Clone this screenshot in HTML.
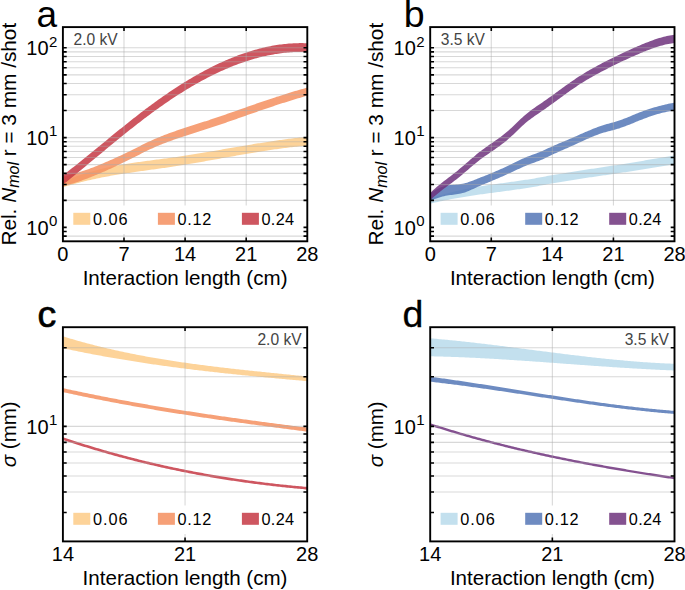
<!DOCTYPE html>
<html><head><meta charset="utf-8"><style>
html,body{margin:0;padding:0;background:#fff;width:685px;height:590px;overflow:hidden}
svg{display:block}
text{font-family:"Liberation Sans",sans-serif}
</style></head><body>
<svg width="685" height="590" viewBox="0 0 685 590">
<rect width="685" height="590" fill="#fff"/>
<clipPath id="c2"><rect x="62.90" y="27.10" width="244.40" height="214.20"/></clipPath>
<g clip-path="url(#c2)">
<path d="M62.90,181.86 L64.44,181.20 L65.97,180.55 L67.51,179.91 L69.05,179.29 L70.59,178.68 L72.12,178.08 L73.66,177.50 L75.20,176.93 L76.73,176.37 L78.27,175.82 L79.81,175.29 L81.35,174.76 L82.88,174.25 L84.42,173.75 L85.96,173.26 L87.49,172.79 L89.03,172.32 L90.57,171.86 L92.11,171.42 L93.64,170.98 L95.18,170.56 L96.72,170.15 L98.25,169.74 L99.79,169.35 L101.33,168.97 L102.86,168.59 L104.40,168.23 L105.94,167.87 L107.48,167.53 L109.01,167.19 L110.55,166.86 L112.09,166.54 L113.62,166.23 L115.16,165.93 L116.70,165.63 L118.24,165.34 L119.77,165.06 L121.31,164.78 L122.85,164.51 L124.38,164.25 L125.92,163.99 L127.46,163.74 L129.00,163.49 L130.53,163.25 L132.07,163.01 L133.61,162.78 L135.14,162.55 L136.68,162.32 L138.22,162.10 L139.76,161.88 L141.29,161.67 L142.83,161.46 L144.37,161.25 L145.90,161.04 L147.44,160.83 L148.98,160.63 L150.52,160.43 L152.05,160.22 L153.59,160.02 L155.13,159.82 L156.66,159.62 L158.20,159.42 L159.74,159.22 L161.27,159.02 L162.81,158.81 L164.35,158.61 L165.89,158.41 L167.42,158.20 L168.96,157.99 L170.50,157.78 L172.03,157.56 L173.57,157.35 L175.11,157.13 L176.65,156.90 L178.18,156.68 L179.72,156.45 L181.26,156.22 L182.79,155.99 L184.33,155.75 L185.87,155.52 L187.41,155.28 L188.94,155.04 L190.48,154.79 L192.02,154.55 L193.55,154.30 L195.09,154.05 L196.63,153.80 L198.17,153.55 L199.70,153.29 L201.24,153.04 L202.78,152.78 L204.31,152.53 L205.85,152.27 L207.39,152.01 L208.93,151.75 L210.46,151.49 L212.00,151.22 L213.54,150.96 L215.07,150.70 L216.61,150.43 L218.15,150.17 L219.68,149.90 L221.22,149.63 L222.76,149.37 L224.30,149.10 L225.83,148.84 L227.37,148.57 L228.91,148.30 L230.44,148.04 L231.98,147.77 L233.52,147.51 L235.06,147.24 L236.59,146.98 L238.13,146.71 L239.67,146.45 L241.20,146.19 L242.74,145.93 L244.28,145.67 L245.82,145.41 L247.35,145.15 L248.89,144.89 L250.43,144.63 L251.96,144.38 L253.50,144.12 L255.04,143.87 L256.58,143.62 L258.11,143.37 L259.65,143.13 L261.19,142.88 L262.72,142.64 L264.26,142.40 L265.80,142.16 L267.34,141.92 L268.87,141.68 L270.41,141.45 L271.95,141.22 L273.48,140.99 L275.02,140.77 L276.56,140.54 L278.09,140.32 L279.63,140.11 L281.17,139.89 L282.71,139.68 L284.24,139.47 L285.78,139.27 L287.32,139.07 L288.85,138.87 L290.39,138.67 L291.93,138.48 L293.47,138.29 L295.00,138.11 L296.54,137.93 L298.08,137.75 L299.61,137.58 L301.15,137.41 L302.69,137.24 L304.23,137.08 L305.76,136.92 L307.30,136.77 L307.30,145.62 L305.76,145.75 L304.23,145.89 L302.69,146.03 L301.15,146.18 L299.61,146.34 L298.08,146.49 L296.54,146.66 L295.00,146.82 L293.47,147.00 L291.93,147.17 L290.39,147.35 L288.85,147.54 L287.32,147.72 L285.78,147.92 L284.24,148.11 L282.71,148.31 L281.17,148.52 L279.63,148.72 L278.09,148.93 L276.56,149.15 L275.02,149.37 L273.48,149.59 L271.95,149.81 L270.41,150.04 L268.87,150.27 L267.34,150.50 L265.80,150.74 L264.26,150.97 L262.72,151.21 L261.19,151.46 L259.65,151.70 L258.11,151.95 L256.58,152.20 L255.04,152.45 L253.50,152.71 L251.96,152.96 L250.43,153.22 L248.89,153.48 L247.35,153.74 L245.82,154.01 L244.28,154.27 L242.74,154.54 L241.20,154.81 L239.67,155.07 L238.13,155.34 L236.59,155.62 L235.06,155.89 L233.52,156.16 L231.98,156.43 L230.44,156.71 L228.91,156.98 L227.37,157.26 L225.83,157.54 L224.30,157.81 L222.76,158.09 L221.22,158.36 L219.68,158.64 L218.15,158.92 L216.61,159.19 L215.07,159.47 L213.54,159.75 L212.00,160.02 L210.46,160.30 L208.93,160.57 L207.39,160.85 L205.85,161.12 L204.31,161.39 L202.78,161.66 L201.24,161.93 L199.70,162.20 L198.17,162.47 L196.63,162.74 L195.09,163.00 L193.55,163.27 L192.02,163.53 L190.48,163.79 L188.94,164.05 L187.41,164.31 L185.87,164.56 L184.33,164.82 L182.79,165.07 L181.26,165.32 L179.72,165.56 L178.18,165.81 L176.65,166.05 L175.11,166.29 L173.57,166.53 L172.03,166.76 L170.50,166.99 L168.96,167.22 L167.42,167.45 L165.89,167.67 L164.35,167.89 L162.81,168.11 L161.27,168.33 L159.74,168.55 L158.20,168.76 L156.66,168.98 L155.13,169.19 L153.59,169.41 L152.05,169.62 L150.52,169.83 L148.98,170.04 L147.44,170.25 L145.90,170.47 L144.37,170.68 L142.83,170.89 L141.29,171.11 L139.76,171.32 L138.22,171.54 L136.68,171.76 L135.14,171.98 L133.61,172.20 L132.07,172.42 L130.53,172.65 L129.00,172.88 L127.46,173.11 L125.92,173.34 L124.38,173.58 L122.85,173.82 L121.31,174.06 L119.77,174.31 L118.24,174.56 L116.70,174.81 L115.16,175.07 L113.62,175.33 L112.09,175.60 L110.55,175.87 L109.01,176.15 L107.48,176.43 L105.94,176.72 L104.40,177.01 L102.86,177.31 L101.33,177.61 L99.79,177.92 L98.25,178.24 L96.72,178.56 L95.18,178.89 L93.64,179.22 L92.11,179.56 L90.57,179.90 L89.03,180.26 L87.49,180.61 L85.96,180.98 L84.42,181.35 L82.88,181.73 L81.35,182.11 L79.81,182.50 L78.27,182.90 L76.73,183.30 L75.20,183.71 L73.66,184.13 L72.12,184.55 L70.59,184.98 L69.05,185.42 L67.51,185.87 L65.97,186.32 L64.44,186.78 L62.90,187.25 Z" fill="#FDCB87" fill-opacity="0.85"/>
<path d="M62.90,176.56 L64.44,176.23 L65.97,175.89 L67.51,175.52 L69.05,175.14 L70.59,174.75 L72.12,174.33 L73.66,173.91 L75.20,173.47 L76.73,173.01 L78.27,172.54 L79.81,172.06 L81.35,171.56 L82.88,171.05 L84.42,170.53 L85.96,170.00 L87.49,169.45 L89.03,168.90 L90.57,168.33 L92.11,167.75 L93.64,167.16 L95.18,166.56 L96.72,165.95 L98.25,165.33 L99.79,164.71 L101.33,164.07 L102.86,163.43 L104.40,162.77 L105.94,162.11 L107.48,161.45 L109.01,160.77 L110.55,160.09 L112.09,159.41 L113.62,158.72 L115.16,158.02 L116.70,157.32 L118.24,156.61 L119.77,155.90 L121.31,155.19 L122.85,154.47 L124.38,153.74 L125.92,153.01 L127.46,152.27 L129.00,151.53 L130.53,150.77 L132.07,150.01 L133.61,149.25 L135.14,148.47 L136.68,147.70 L138.22,146.92 L139.76,146.14 L141.29,145.37 L142.83,144.60 L144.37,143.83 L145.90,143.08 L147.44,142.33 L148.98,141.60 L150.52,140.88 L152.05,140.18 L153.59,139.49 L155.13,138.82 L156.66,138.16 L158.20,137.52 L159.74,136.89 L161.27,136.27 L162.81,135.66 L164.35,135.06 L165.89,134.48 L167.42,133.90 L168.96,133.33 L170.50,132.77 L172.03,132.22 L173.57,131.68 L175.11,131.14 L176.65,130.61 L178.18,130.09 L179.72,129.57 L181.26,129.06 L182.79,128.55 L184.33,128.04 L185.87,127.54 L187.41,127.04 L188.94,126.54 L190.48,126.05 L192.02,125.55 L193.55,125.06 L195.09,124.57 L196.63,124.08 L198.17,123.59 L199.70,123.10 L201.24,122.61 L202.78,122.12 L204.31,121.62 L205.85,121.13 L207.39,120.63 L208.93,120.13 L210.46,119.62 L212.00,119.11 L213.54,118.60 L215.07,118.09 L216.61,117.57 L218.15,117.05 L219.68,116.52 L221.22,116.00 L222.76,115.47 L224.30,114.94 L225.83,114.40 L227.37,113.87 L228.91,113.33 L230.44,112.79 L231.98,112.25 L233.52,111.71 L235.06,111.17 L236.59,110.63 L238.13,110.09 L239.67,109.55 L241.20,109.00 L242.74,108.46 L244.28,107.92 L245.82,107.38 L247.35,106.84 L248.89,106.30 L250.43,105.76 L251.96,105.22 L253.50,104.68 L255.04,104.14 L256.58,103.61 L258.11,103.08 L259.65,102.55 L261.19,102.02 L262.72,101.50 L264.26,100.97 L265.80,100.45 L267.34,99.93 L268.87,99.41 L270.41,98.90 L271.95,98.39 L273.48,97.88 L275.02,97.38 L276.56,96.87 L278.09,96.38 L279.63,95.88 L281.17,95.39 L282.71,94.90 L284.24,94.41 L285.78,93.93 L287.32,93.45 L288.85,92.98 L290.39,92.51 L291.93,92.04 L293.47,91.58 L295.00,91.12 L296.54,90.67 L298.08,90.22 L299.61,89.77 L301.15,89.33 L302.69,88.90 L304.23,88.47 L305.76,88.04 L307.30,87.62 L307.30,95.67 L305.76,96.11 L304.23,96.55 L302.69,96.99 L301.15,97.44 L299.61,97.89 L298.08,98.35 L296.54,98.81 L295.00,99.27 L293.47,99.74 L291.93,100.21 L290.39,100.69 L288.85,101.17 L287.32,101.65 L285.78,102.14 L284.24,102.63 L282.71,103.12 L281.17,103.61 L279.63,104.11 L278.09,104.61 L276.56,105.12 L275.02,105.62 L273.48,106.13 L271.95,106.64 L270.41,107.16 L268.87,107.68 L267.34,108.20 L265.80,108.72 L264.26,109.24 L262.72,109.77 L261.19,110.29 L259.65,110.82 L258.11,111.35 L256.58,111.88 L255.04,112.42 L253.50,112.95 L251.96,113.49 L250.43,114.03 L248.89,114.57 L247.35,115.11 L245.82,115.65 L244.28,116.19 L242.74,116.73 L241.20,117.27 L239.67,117.81 L238.13,118.35 L236.59,118.89 L235.06,119.43 L233.52,119.97 L231.98,120.51 L230.44,121.04 L228.91,121.58 L227.37,122.11 L225.83,122.64 L224.30,123.17 L222.76,123.70 L221.22,124.23 L219.68,124.75 L218.15,125.27 L216.61,125.79 L215.07,126.30 L213.54,126.81 L212.00,127.32 L210.46,127.83 L208.93,128.33 L207.39,128.83 L205.85,129.32 L204.31,129.82 L202.78,130.31 L201.24,130.80 L199.70,131.29 L198.17,131.77 L196.63,132.26 L195.09,132.75 L193.55,133.24 L192.02,133.73 L190.48,134.22 L188.94,134.71 L187.41,135.20 L185.87,135.70 L184.33,136.20 L182.79,136.71 L181.26,137.22 L179.72,137.73 L178.18,138.25 L176.65,138.77 L175.11,139.31 L173.57,139.84 L172.03,140.39 L170.50,140.94 L168.96,141.50 L167.42,142.07 L165.89,142.64 L164.35,143.23 L162.81,143.83 L161.27,144.44 L159.74,145.07 L158.20,145.70 L156.66,146.35 L155.13,147.01 L153.59,147.69 L152.05,148.38 L150.52,149.09 L148.98,149.81 L147.44,150.55 L145.90,151.30 L144.37,152.07 L142.83,152.84 L141.29,153.62 L139.76,154.40 L138.22,155.19 L136.68,155.98 L135.14,156.76 L133.61,157.55 L132.07,158.33 L130.53,159.10 L129.00,159.86 L127.46,160.62 L125.92,161.37 L124.38,162.12 L122.85,162.86 L121.31,163.60 L119.77,164.33 L118.24,165.06 L116.70,165.78 L115.16,166.50 L113.62,167.22 L112.09,167.93 L110.55,168.64 L109.01,169.34 L107.48,170.03 L105.94,170.72 L104.40,171.40 L102.86,172.08 L101.33,172.75 L99.79,173.41 L98.25,174.06 L96.72,174.71 L95.18,175.35 L93.64,175.97 L92.11,176.59 L90.57,177.20 L89.03,177.80 L87.49,178.39 L85.96,178.97 L84.42,179.54 L82.88,180.10 L81.35,180.64 L79.81,181.17 L78.27,181.69 L76.73,182.20 L75.20,182.70 L73.66,183.18 L72.12,183.65 L70.59,184.10 L69.05,184.54 L67.51,184.96 L65.97,185.37 L64.44,185.77 L62.90,186.14 Z" fill="#F48F5F" fill-opacity="0.85"/>
<path d="M62.90,175.34 L64.44,174.15 L65.97,172.95 L67.51,171.75 L69.05,170.54 L70.59,169.33 L72.12,168.11 L73.66,166.88 L75.20,165.66 L76.73,164.43 L78.27,163.19 L79.81,161.96 L81.35,160.72 L82.88,159.47 L84.42,158.23 L85.96,156.98 L87.49,155.73 L89.03,154.47 L90.57,153.22 L92.11,151.96 L93.64,150.71 L95.18,149.45 L96.72,148.19 L98.25,146.93 L99.79,145.67 L101.33,144.41 L102.86,143.15 L104.40,141.89 L105.94,140.63 L107.48,139.38 L109.01,138.12 L110.55,136.86 L112.09,135.61 L113.62,134.36 L115.16,133.11 L116.70,131.86 L118.24,130.61 L119.77,129.37 L121.31,128.13 L122.85,126.89 L124.38,125.66 L125.92,124.43 L127.46,123.20 L129.00,121.98 L130.53,120.76 L132.07,119.55 L133.61,118.34 L135.14,117.14 L136.68,115.94 L138.22,114.74 L139.76,113.56 L141.29,112.37 L142.83,111.20 L144.37,110.03 L145.90,108.87 L147.44,107.71 L148.98,106.56 L150.52,105.42 L152.05,104.29 L153.59,103.16 L155.13,102.05 L156.66,100.93 L158.20,99.83 L159.74,98.74 L161.27,97.65 L162.81,96.57 L164.35,95.50 L165.89,94.44 L167.42,93.39 L168.96,92.34 L170.50,91.30 L172.03,90.28 L173.57,89.26 L175.11,88.24 L176.65,87.24 L178.18,86.25 L179.72,85.27 L181.26,84.29 L182.79,83.32 L184.33,82.37 L185.87,81.42 L187.41,80.48 L188.94,79.56 L190.48,78.64 L192.02,77.73 L193.55,76.83 L195.09,75.94 L196.63,75.06 L198.17,74.19 L199.70,73.33 L201.24,72.48 L202.78,71.64 L204.31,70.81 L205.85,70.00 L207.39,69.19 L208.93,68.39 L210.46,67.61 L212.00,66.83 L213.54,66.07 L215.07,65.31 L216.61,64.57 L218.15,63.84 L219.68,63.12 L221.22,62.41 L222.76,61.71 L224.30,61.02 L225.83,60.35 L227.37,59.69 L228.91,59.03 L230.44,58.39 L231.98,57.77 L233.52,57.15 L235.06,56.54 L236.59,55.95 L238.13,55.37 L239.67,54.81 L241.20,54.25 L242.74,53.71 L244.28,53.18 L245.82,52.66 L247.35,52.15 L248.89,51.66 L250.43,51.18 L251.96,50.71 L253.50,50.26 L255.04,49.82 L256.58,49.39 L258.11,48.98 L259.65,48.58 L261.19,48.19 L262.72,47.82 L264.26,47.46 L265.80,47.11 L267.34,46.78 L268.87,46.46 L270.41,46.15 L271.95,45.86 L273.48,45.58 L275.02,45.32 L276.56,45.07 L278.09,44.84 L279.63,44.62 L281.17,44.41 L282.71,44.22 L284.24,44.05 L285.78,43.88 L287.32,43.74 L288.85,43.61 L290.39,43.49 L291.93,43.39 L293.47,43.30 L295.00,43.23 L296.54,43.17 L298.08,43.13 L299.61,43.11 L301.15,43.10 L302.69,43.10 L304.23,43.13 L305.76,43.16 L307.30,43.22 L307.30,51.98 L305.76,51.93 L304.23,51.90 L302.69,51.88 L301.15,51.88 L299.61,51.89 L298.08,51.92 L296.54,51.96 L295.00,52.02 L293.47,52.10 L291.93,52.18 L290.39,52.29 L288.85,52.41 L287.32,52.54 L285.78,52.69 L284.24,52.85 L282.71,53.03 L281.17,53.22 L279.63,53.42 L278.09,53.64 L276.56,53.88 L275.02,54.12 L273.48,54.39 L271.95,54.66 L270.41,54.95 L268.87,55.26 L267.34,55.57 L265.80,55.90 L264.26,56.25 L262.72,56.61 L261.19,56.98 L259.65,57.36 L258.11,57.76 L256.58,58.17 L255.04,58.60 L253.50,59.03 L251.96,59.49 L250.43,59.95 L248.89,60.42 L247.35,60.91 L245.82,61.42 L244.28,61.93 L242.74,62.46 L241.20,63.00 L239.67,63.55 L238.13,64.11 L236.59,64.69 L235.06,65.27 L233.52,65.87 L231.98,66.49 L230.44,67.11 L228.91,67.74 L227.37,68.39 L225.83,69.05 L224.30,69.72 L222.76,70.40 L221.22,71.10 L219.68,71.80 L218.15,72.52 L216.61,73.24 L215.07,73.98 L213.54,74.73 L212.00,75.49 L210.46,76.26 L208.93,77.05 L207.39,77.84 L205.85,78.64 L204.31,79.46 L202.78,80.28 L201.24,81.11 L199.70,81.96 L198.17,82.81 L196.63,83.68 L195.09,84.56 L193.55,85.44 L192.02,86.34 L190.48,87.24 L188.94,88.16 L187.41,89.08 L185.87,90.02 L184.33,90.96 L182.79,91.91 L181.26,92.88 L179.72,93.85 L178.18,94.83 L176.65,95.82 L175.11,96.82 L173.57,97.83 L172.03,98.85 L170.50,99.87 L168.96,100.91 L167.42,101.95 L165.89,103.01 L164.35,104.07 L162.81,105.14 L161.27,106.22 L159.74,107.30 L158.20,108.40 L156.66,109.50 L155.13,110.61 L153.59,111.73 L152.05,112.86 L150.52,113.99 L148.98,115.13 L147.44,116.28 L145.90,117.44 L144.37,118.60 L142.83,119.78 L141.29,120.95 L139.76,122.14 L138.22,123.33 L136.68,124.53 L135.14,125.73 L133.61,126.94 L132.07,128.15 L130.53,129.37 L129.00,130.59 L127.46,131.82 L125.92,133.05 L124.38,134.29 L122.85,135.53 L121.31,136.77 L119.77,138.02 L118.24,139.27 L116.70,140.52 L115.16,141.78 L113.62,143.04 L112.09,144.30 L110.55,145.56 L109.01,146.83 L107.48,148.10 L105.94,149.37 L104.40,150.64 L102.86,151.91 L101.33,153.18 L99.79,154.45 L98.25,155.72 L96.72,157.00 L95.18,158.27 L93.64,159.54 L92.11,160.81 L90.57,162.08 L89.03,163.35 L87.49,164.62 L85.96,165.89 L84.42,167.16 L82.88,168.42 L81.35,169.68 L79.81,170.94 L78.27,172.20 L76.73,173.45 L75.20,174.70 L73.66,175.95 L72.12,177.19 L70.59,178.43 L69.05,179.67 L67.51,180.90 L65.97,182.13 L64.44,183.35 L62.90,184.57 Z" fill="#C53844" fill-opacity="0.85"/>
<line x1="62.90" y1="236.10" x2="307.30" y2="236.10" stroke="#a8a8a8" stroke-opacity="0.45" stroke-width="1.1"/>
<line x1="62.90" y1="231.51" x2="307.30" y2="231.51" stroke="#a8a8a8" stroke-opacity="0.45" stroke-width="1.1"/>
<line x1="62.90" y1="227.40" x2="307.30" y2="227.40" stroke="#a8a8a8" stroke-opacity="0.45" stroke-width="1.1"/>
<line x1="62.90" y1="200.37" x2="307.30" y2="200.37" stroke="#a8a8a8" stroke-opacity="0.45" stroke-width="1.1"/>
<line x1="62.90" y1="184.55" x2="307.30" y2="184.55" stroke="#a8a8a8" stroke-opacity="0.45" stroke-width="1.1"/>
<line x1="62.90" y1="173.34" x2="307.30" y2="173.34" stroke="#a8a8a8" stroke-opacity="0.45" stroke-width="1.1"/>
<line x1="62.90" y1="164.63" x2="307.30" y2="164.63" stroke="#a8a8a8" stroke-opacity="0.45" stroke-width="1.1"/>
<line x1="62.90" y1="157.52" x2="307.30" y2="157.52" stroke="#a8a8a8" stroke-opacity="0.45" stroke-width="1.1"/>
<line x1="62.90" y1="151.51" x2="307.30" y2="151.51" stroke="#a8a8a8" stroke-opacity="0.45" stroke-width="1.1"/>
<line x1="62.90" y1="146.30" x2="307.30" y2="146.30" stroke="#a8a8a8" stroke-opacity="0.45" stroke-width="1.1"/>
<line x1="62.90" y1="141.71" x2="307.30" y2="141.71" stroke="#a8a8a8" stroke-opacity="0.45" stroke-width="1.1"/>
<line x1="62.90" y1="137.60" x2="307.30" y2="137.60" stroke="#a8a8a8" stroke-opacity="0.45" stroke-width="1.1"/>
<line x1="62.90" y1="110.57" x2="307.30" y2="110.57" stroke="#a8a8a8" stroke-opacity="0.45" stroke-width="1.1"/>
<line x1="62.90" y1="94.75" x2="307.30" y2="94.75" stroke="#a8a8a8" stroke-opacity="0.45" stroke-width="1.1"/>
<line x1="62.90" y1="83.54" x2="307.30" y2="83.54" stroke="#a8a8a8" stroke-opacity="0.45" stroke-width="1.1"/>
<line x1="62.90" y1="74.83" x2="307.30" y2="74.83" stroke="#a8a8a8" stroke-opacity="0.45" stroke-width="1.1"/>
<line x1="62.90" y1="67.72" x2="307.30" y2="67.72" stroke="#a8a8a8" stroke-opacity="0.45" stroke-width="1.1"/>
<line x1="62.90" y1="61.71" x2="307.30" y2="61.71" stroke="#a8a8a8" stroke-opacity="0.45" stroke-width="1.1"/>
<line x1="62.90" y1="56.50" x2="307.30" y2="56.50" stroke="#a8a8a8" stroke-opacity="0.45" stroke-width="1.1"/>
<line x1="62.90" y1="51.91" x2="307.30" y2="51.91" stroke="#a8a8a8" stroke-opacity="0.45" stroke-width="1.1"/>
<line x1="62.90" y1="47.80" x2="307.30" y2="47.80" stroke="#a8a8a8" stroke-opacity="0.45" stroke-width="1.1"/>
<line x1="124.00" y1="27.10" x2="124.00" y2="241.30" stroke="#a8a8a8" stroke-opacity="0.45" stroke-width="1.1"/>
<line x1="185.10" y1="27.10" x2="185.10" y2="241.30" stroke="#a8a8a8" stroke-opacity="0.45" stroke-width="1.1"/>
<line x1="246.20" y1="27.10" x2="246.20" y2="241.30" stroke="#a8a8a8" stroke-opacity="0.45" stroke-width="1.1"/>
</g>
<rect x="64.00" y="205.50" width="242.00" height="28.50" fill="#fff"/>
<rect x="73.30" y="212.80" width="17" height="12" fill="#FDD399"/>
<text x="92.90" y="224.70" font-size="16.3" textLength="34.6" lengthAdjust="spacing" font-family="Liberation Sans, sans-serif" fill="#000">0.06</text>
<rect x="157.90" y="212.80" width="17" height="12" fill="#F6A077"/>
<text x="177.50" y="224.70" font-size="16.3" textLength="33.8" lengthAdjust="spacing" font-family="Liberation Sans, sans-serif" fill="#000">0.12</text>
<rect x="241.90" y="212.80" width="17" height="12" fill="#CE5660"/>
<text x="261.50" y="224.70" font-size="16.3" textLength="32.6" lengthAdjust="spacing" font-family="Liberation Sans, sans-serif" fill="#000">0.24</text>
<path d="M62.90 236.10h3.8M307.30 236.10h-3.8M62.90 231.51h3.8M307.30 231.51h-3.8M62.90 227.40h3.8M307.30 227.40h-3.8M62.90 200.37h3.8M307.30 200.37h-3.8M62.90 184.55h3.8M307.30 184.55h-3.8M62.90 173.34h3.8M307.30 173.34h-3.8M62.90 164.63h3.8M307.30 164.63h-3.8M62.90 157.52h3.8M307.30 157.52h-3.8M62.90 151.51h3.8M307.30 151.51h-3.8M62.90 146.30h3.8M307.30 146.30h-3.8M62.90 141.71h3.8M307.30 141.71h-3.8M62.90 137.60h3.8M307.30 137.60h-3.8M62.90 110.57h3.8M307.30 110.57h-3.8M62.90 94.75h3.8M307.30 94.75h-3.8M62.90 83.54h3.8M307.30 83.54h-3.8M62.90 74.83h3.8M307.30 74.83h-3.8M62.90 67.72h3.8M307.30 67.72h-3.8M62.90 61.71h3.8M307.30 61.71h-3.8M62.90 56.50h3.8M307.30 56.50h-3.8M62.90 51.91h3.8M307.30 51.91h-3.8M62.90 47.80h3.8M307.30 47.80h-3.8M124.00 241.30v-3.8M124.00 27.10v3.8M185.10 241.30v-3.8M185.10 27.10v3.8M246.20 241.30v-3.8M246.20 27.10v3.8" stroke="#000" stroke-width="1.6" fill="none"/>
<rect x="62.90" y="27.10" width="244.40" height="214.20" fill="none" stroke="#000" stroke-width="1.9"/>
<text x="62.90" y="261.10" font-size="20" text-anchor="middle" font-family="Liberation Sans, sans-serif">0</text>
<text x="124.00" y="261.10" font-size="20" text-anchor="middle" font-family="Liberation Sans, sans-serif">7</text>
<text x="185.10" y="261.10" font-size="20" text-anchor="middle" font-family="Liberation Sans, sans-serif">14</text>
<text x="246.20" y="261.10" font-size="20" text-anchor="middle" font-family="Liberation Sans, sans-serif">21</text>
<text x="307.30" y="261.10" font-size="20" text-anchor="middle" font-family="Liberation Sans, sans-serif">28</text>
<text x="26.30" y="234.70" font-size="20" font-family="Liberation Sans, sans-serif">10<tspan font-size="15" dx="0.4" dy="-8.6">0</tspan></text>
<text x="26.30" y="144.90" font-size="20" font-family="Liberation Sans, sans-serif">10<tspan font-size="15" dx="0.4" dy="-8.6">1</tspan></text>
<text x="26.30" y="55.10" font-size="20" font-family="Liberation Sans, sans-serif">10<tspan font-size="15" dx="0.4" dy="-8.6">2</tspan></text>
<text x="185.10" y="285.00" font-size="20.6" text-anchor="middle" font-family="Liberation Sans, sans-serif">Interaction length (cm)</text>
<text transform="translate(16.10 134.20) rotate(-90)" font-size="20.8" text-anchor="middle" font-family="Liberation Sans, sans-serif">Rel. <tspan font-style="italic">N</tspan><tspan font-size="16" font-style="italic" dy="3.2">mol</tspan><tspan dy="-3.2"> r = 3 mm /shot</tspan></text>
<text x="73.50" y="44.50" font-size="15.6" fill="#444" font-family="Liberation Sans, sans-serif">2.0 kV</text>
<text x="36.60" y="27.20" font-size="37" font-family="Liberation Sans, sans-serif">a</text>
<clipPath id="c53"><rect x="430.20" y="27.10" width="244.30" height="214.20"/></clipPath>
<g clip-path="url(#c53)">
<path d="M430.20,198.62 L431.74,198.09 L433.27,197.57 L434.81,197.06 L436.35,196.56 L437.88,196.08 L439.42,195.61 L440.96,195.14 L442.49,194.69 L444.03,194.25 L445.56,193.82 L447.10,193.40 L448.64,193.00 L450.17,192.60 L451.71,192.21 L453.25,191.83 L454.78,191.46 L456.32,191.10 L457.86,190.74 L459.39,190.40 L460.93,190.06 L462.47,189.73 L464.00,189.41 L465.54,189.10 L467.08,188.79 L468.61,188.49 L470.15,188.20 L471.68,187.91 L473.22,187.63 L474.76,187.35 L476.29,187.09 L477.83,186.82 L479.37,186.56 L480.90,186.31 L482.44,186.06 L483.98,185.81 L485.51,185.57 L487.05,185.34 L488.59,185.10 L490.12,184.87 L491.66,184.65 L493.20,184.42 L494.73,184.20 L496.27,183.98 L497.81,183.77 L499.34,183.55 L500.88,183.34 L502.41,183.13 L503.95,182.91 L505.49,182.70 L507.02,182.49 L508.56,182.28 L510.10,182.07 L511.63,181.86 L513.17,181.65 L514.71,181.43 L516.24,181.22 L517.78,181.00 L519.32,180.78 L520.85,180.56 L522.39,180.33 L523.93,180.10 L525.46,179.87 L527.00,179.63 L528.53,179.39 L530.07,179.15 L531.61,178.90 L533.14,178.64 L534.68,178.38 L536.22,178.12 L537.75,177.85 L539.29,177.57 L540.83,177.29 L542.36,177.00 L543.90,176.70 L545.44,176.41 L546.97,176.12 L548.51,175.84 L550.05,175.56 L551.58,175.28 L553.12,175.00 L554.65,174.73 L556.19,174.46 L557.73,174.20 L559.26,173.93 L560.80,173.67 L562.34,173.42 L563.87,173.16 L565.41,172.91 L566.95,172.66 L568.48,172.41 L570.02,172.16 L571.56,171.92 L573.09,171.67 L574.63,171.43 L576.17,171.19 L577.70,170.95 L579.24,170.72 L580.77,170.48 L582.31,170.25 L583.85,170.01 L585.38,169.78 L586.92,169.55 L588.46,169.32 L589.99,169.09 L591.53,168.86 L593.07,168.63 L594.60,168.40 L596.14,168.17 L597.68,167.94 L599.21,167.70 L600.75,167.47 L602.29,167.24 L603.82,167.01 L605.36,166.78 L606.89,166.55 L608.43,166.31 L609.97,166.08 L611.50,165.84 L613.04,165.60 L614.58,165.37 L616.11,165.13 L617.65,164.88 L619.19,164.64 L620.72,164.40 L622.26,164.15 L623.80,163.91 L625.33,163.66 L626.87,163.41 L628.41,163.16 L629.94,162.91 L631.48,162.66 L633.02,162.41 L634.55,162.15 L636.09,161.90 L637.62,161.65 L639.16,161.39 L640.70,161.14 L642.23,160.88 L643.77,160.63 L645.31,160.37 L646.84,160.12 L648.38,159.86 L649.92,159.61 L651.45,159.35 L652.99,159.10 L654.53,158.85 L656.06,158.59 L657.60,158.34 L659.14,158.08 L660.67,157.83 L662.21,157.58 L663.74,157.33 L665.28,157.08 L666.82,156.83 L668.35,156.58 L669.89,156.33 L671.43,156.09 L672.96,155.84 L674.50,155.60 L674.50,164.41 L672.96,164.64 L671.43,164.88 L669.89,165.12 L668.35,165.35 L666.82,165.59 L665.28,165.83 L663.74,166.07 L662.21,166.31 L660.67,166.56 L659.14,166.80 L657.60,167.04 L656.06,167.28 L654.53,167.53 L652.99,167.77 L651.45,168.01 L649.92,168.26 L648.38,168.50 L646.84,168.75 L645.31,168.99 L643.77,169.23 L642.23,169.48 L640.70,169.72 L639.16,169.97 L637.62,170.21 L636.09,170.45 L634.55,170.69 L633.02,170.93 L631.48,171.18 L629.94,171.42 L628.41,171.66 L626.87,171.89 L625.33,172.13 L623.80,172.37 L622.26,172.61 L620.72,172.84 L619.19,173.07 L617.65,173.31 L616.11,173.54 L614.58,173.77 L613.04,174.00 L611.50,174.23 L609.97,174.45 L608.43,174.68 L606.89,174.90 L605.36,175.13 L603.82,175.35 L602.29,175.57 L600.75,175.80 L599.21,176.02 L597.68,176.24 L596.14,176.47 L594.60,176.69 L593.07,176.91 L591.53,177.14 L589.99,177.36 L588.46,177.58 L586.92,177.81 L585.38,178.04 L583.85,178.26 L582.31,178.49 L580.77,178.72 L579.24,178.96 L577.70,179.19 L576.17,179.42 L574.63,179.66 L573.09,179.90 L571.56,180.14 L570.02,180.38 L568.48,180.63 L566.95,180.88 L565.41,181.13 L563.87,181.38 L562.34,181.63 L560.80,181.89 L559.26,182.15 L557.73,182.42 L556.19,182.69 L554.65,182.96 L553.12,183.23 L551.58,183.51 L550.05,183.79 L548.51,184.08 L546.97,184.37 L545.44,184.67 L543.90,184.96 L542.36,185.26 L540.83,185.56 L539.29,185.85 L537.75,186.13 L536.22,186.41 L534.68,186.69 L533.14,186.95 L531.61,187.22 L530.07,187.47 L528.53,187.73 L527.00,187.97 L525.46,188.22 L523.93,188.45 L522.39,188.69 L520.85,188.92 L519.32,189.15 L517.78,189.37 L516.24,189.59 L514.71,189.81 L513.17,190.02 L511.63,190.24 L510.10,190.45 L508.56,190.66 L507.02,190.86 L505.49,191.07 L503.95,191.28 L502.41,191.48 L500.88,191.68 L499.34,191.89 L497.81,192.09 L496.27,192.29 L494.73,192.50 L493.20,192.70 L491.66,192.90 L490.12,193.11 L488.59,193.32 L487.05,193.52 L485.51,193.73 L483.98,193.94 L482.44,194.15 L480.90,194.37 L479.37,194.59 L477.83,194.80 L476.29,195.03 L474.76,195.25 L473.22,195.48 L471.68,195.71 L470.15,195.94 L468.61,196.17 L467.08,196.41 L465.54,196.66 L464.00,196.90 L462.47,197.16 L460.93,197.41 L459.39,197.67 L457.86,197.94 L456.32,198.21 L454.78,198.48 L453.25,198.76 L451.71,199.04 L450.17,199.34 L448.64,199.63 L447.10,199.93 L445.56,200.24 L444.03,200.56 L442.49,200.88 L440.96,201.20 L439.42,201.54 L437.88,201.88 L436.35,202.23 L434.81,202.58 L433.27,202.94 L431.74,203.31 L430.20,203.69 Z" fill="#B8DBEB" fill-opacity="0.85"/>
<path d="M430.20,193.86 L431.74,192.64 L433.27,191.51 L434.81,190.48 L436.35,189.54 L437.88,188.69 L439.42,187.94 L440.96,187.28 L442.49,186.72 L444.03,186.24 L445.56,185.85 L447.10,185.54 L448.64,185.29 L450.17,185.09 L451.71,184.92 L453.25,184.78 L454.78,184.65 L456.32,184.52 L457.86,184.38 L459.39,184.21 L460.93,184.01 L462.47,183.76 L464.00,183.45 L465.54,183.08 L467.08,182.63 L468.61,182.12 L470.15,181.56 L471.68,180.98 L473.22,180.38 L474.76,179.77 L476.29,179.16 L477.83,178.56 L479.37,177.96 L480.90,177.35 L482.44,176.75 L483.98,176.14 L485.51,175.53 L487.05,174.92 L488.59,174.30 L490.12,173.68 L491.66,173.05 L493.20,172.41 L494.73,171.76 L496.27,171.11 L497.81,170.44 L499.34,169.77 L500.88,169.08 L502.41,168.38 L503.95,167.67 L505.49,166.95 L507.02,166.23 L508.56,165.50 L510.10,164.76 L511.63,164.02 L513.17,163.27 L514.71,162.52 L516.24,161.78 L517.78,161.04 L519.32,160.30 L520.85,159.58 L522.39,158.87 L523.93,158.18 L525.46,157.51 L527.00,156.86 L528.53,156.24 L530.07,155.65 L531.61,155.07 L533.14,154.51 L534.68,153.95 L536.22,153.39 L537.75,152.82 L539.29,152.23 L540.83,151.62 L542.36,150.98 L543.90,150.30 L545.44,149.58 L546.97,148.85 L548.51,148.11 L550.05,147.39 L551.58,146.68 L553.12,145.99 L554.65,145.31 L556.19,144.65 L557.73,143.99 L559.26,143.34 L560.80,142.70 L562.34,142.06 L563.87,141.43 L565.41,140.79 L566.95,140.15 L568.48,139.50 L570.02,138.85 L571.56,138.18 L573.09,137.51 L574.63,136.84 L576.17,136.16 L577.70,135.48 L579.24,134.80 L580.77,134.12 L582.31,133.44 L583.85,132.76 L585.38,132.09 L586.92,131.43 L588.46,130.77 L589.99,130.13 L591.53,129.49 L593.07,128.87 L594.60,128.26 L596.14,127.67 L597.68,127.10 L599.21,126.54 L600.75,126.00 L602.29,125.49 L603.82,124.99 L605.36,124.52 L606.89,124.08 L608.43,123.66 L609.97,123.26 L611.50,122.86 L613.04,122.45 L614.58,122.02 L616.11,121.56 L617.65,121.07 L619.19,120.55 L620.72,120.01 L622.26,119.45 L623.80,118.86 L625.33,118.26 L626.87,117.65 L628.41,117.02 L629.94,116.39 L631.48,115.75 L633.02,115.11 L634.55,114.48 L636.09,113.84 L637.62,113.22 L639.16,112.60 L640.70,112.00 L642.23,111.42 L643.77,110.85 L645.31,110.30 L646.84,109.77 L648.38,109.26 L649.92,108.76 L651.45,108.27 L652.99,107.81 L654.53,107.35 L656.06,106.91 L657.60,106.49 L659.14,106.08 L660.67,105.68 L662.21,105.29 L663.74,104.92 L665.28,104.56 L666.82,104.21 L668.35,103.87 L669.89,103.54 L671.43,103.23 L672.96,102.92 L674.50,102.62 L674.50,110.66 L672.96,110.83 L671.43,111.04 L669.89,111.27 L668.35,111.54 L666.82,111.83 L665.28,112.14 L663.74,112.48 L662.21,112.85 L660.67,113.24 L659.14,113.65 L657.60,114.08 L656.06,114.53 L654.53,115.00 L652.99,115.50 L651.45,116.00 L649.92,116.53 L648.38,117.07 L646.84,117.63 L645.31,118.20 L643.77,118.79 L642.23,119.38 L640.70,119.99 L639.16,120.61 L637.62,121.24 L636.09,121.87 L634.55,122.50 L633.02,123.13 L631.48,123.76 L629.94,124.38 L628.41,125.00 L626.87,125.60 L625.33,126.19 L623.80,126.77 L622.26,127.33 L620.72,127.86 L619.19,128.38 L617.65,128.86 L616.11,129.32 L614.58,129.75 L613.04,130.15 L611.50,130.54 L609.97,130.92 L608.43,131.30 L606.89,131.70 L605.36,132.13 L603.82,132.59 L602.29,133.07 L600.75,133.59 L599.21,134.12 L597.68,134.68 L596.14,135.26 L594.60,135.86 L593.07,136.48 L591.53,137.11 L589.99,137.76 L588.46,138.43 L586.92,139.10 L585.38,139.78 L583.85,140.48 L582.31,141.18 L580.77,141.88 L579.24,142.59 L577.70,143.30 L576.17,144.01 L574.63,144.72 L573.09,145.42 L571.56,146.12 L570.02,146.81 L568.48,147.50 L566.95,148.18 L565.41,148.85 L563.87,149.52 L562.34,150.19 L560.80,150.86 L559.26,151.53 L557.73,152.21 L556.19,152.89 L554.65,153.59 L553.12,154.29 L551.58,155.01 L550.05,155.74 L548.51,156.49 L546.97,157.24 L545.44,157.99 L543.90,158.72 L542.36,159.42 L540.83,160.07 L539.29,160.70 L537.75,161.29 L536.22,161.87 L534.68,162.43 L533.14,162.99 L531.61,163.55 L530.07,164.11 L528.53,164.70 L527.00,165.30 L525.46,165.93 L523.93,166.58 L522.39,167.25 L520.85,167.93 L519.32,168.63 L517.78,169.33 L516.24,170.04 L514.71,170.76 L513.17,171.47 L511.63,172.19 L510.10,172.90 L508.56,173.61 L507.02,174.31 L505.49,175.01 L503.95,175.70 L502.41,176.38 L500.88,177.06 L499.34,177.73 L497.81,178.40 L496.27,179.05 L494.73,179.70 L493.20,180.35 L491.66,180.99 L490.12,181.63 L488.59,182.27 L487.05,182.91 L485.51,183.55 L483.98,184.20 L482.44,184.85 L480.90,185.50 L479.37,186.16 L477.83,186.83 L476.29,187.51 L474.76,188.20 L473.22,188.90 L471.68,189.61 L470.15,190.30 L468.61,190.97 L467.08,191.60 L465.54,192.17 L464.00,192.67 L462.47,193.10 L460.93,193.46 L459.39,193.78 L457.86,194.05 L456.32,194.29 L454.78,194.51 L453.25,194.71 L451.71,194.91 L450.17,195.12 L448.64,195.34 L447.10,195.59 L445.56,195.87 L444.03,196.19 L442.49,196.56 L440.96,196.98 L439.42,197.45 L437.88,197.95 L436.35,198.50 L434.81,199.09 L433.27,199.70 L431.74,200.34 L430.20,201.01 Z" fill="#5477B6" fill-opacity="0.85"/>
<path d="M430.20,193.09 L431.74,191.58 L433.27,190.12 L434.81,188.72 L436.35,187.37 L437.88,186.06 L439.42,184.78 L440.96,183.54 L442.49,182.32 L444.03,181.12 L445.56,179.94 L447.10,178.77 L448.64,177.60 L450.17,176.43 L451.71,175.25 L453.25,174.07 L454.78,172.86 L456.32,171.64 L457.86,170.38 L459.39,169.11 L460.93,167.81 L462.47,166.49 L464.00,165.17 L465.54,163.83 L467.08,162.49 L468.61,161.15 L470.15,159.82 L471.68,158.49 L473.22,157.18 L474.76,155.88 L476.29,154.60 L477.83,153.35 L479.37,152.12 L480.90,150.93 L482.44,149.77 L483.98,148.64 L485.51,147.54 L487.05,146.45 L488.59,145.37 L490.12,144.31 L491.66,143.25 L493.20,142.18 L494.73,141.11 L496.27,140.03 L497.81,138.94 L499.34,137.82 L500.88,136.67 L502.41,135.50 L503.95,134.29 L505.49,133.05 L507.02,131.77 L508.56,130.46 L510.10,129.10 L511.63,127.71 L513.17,126.27 L514.71,124.80 L516.24,123.32 L517.78,121.82 L519.32,120.33 L520.85,118.86 L522.39,117.42 L523.93,116.02 L525.46,114.68 L527.00,113.40 L528.53,112.17 L530.07,110.98 L531.61,109.84 L533.14,108.73 L534.68,107.65 L536.22,106.59 L537.75,105.54 L539.29,104.50 L540.83,103.45 L542.36,102.40 L543.90,101.34 L545.44,100.26 L546.97,99.18 L548.51,98.08 L550.05,96.98 L551.58,95.88 L553.12,94.76 L554.65,93.65 L556.19,92.53 L557.73,91.41 L559.26,90.29 L560.80,89.18 L562.34,88.06 L563.87,86.95 L565.41,85.85 L566.95,84.75 L568.48,83.66 L570.02,82.58 L571.56,81.51 L573.09,80.45 L574.63,79.40 L576.17,78.37 L577.70,77.36 L579.24,76.36 L580.77,75.38 L582.31,74.42 L583.85,73.47 L585.38,72.54 L586.92,71.62 L588.46,70.71 L589.99,69.82 L591.53,68.95 L593.07,68.08 L594.60,67.23 L596.14,66.39 L597.68,65.56 L599.21,64.74 L600.75,63.93 L602.29,63.12 L603.82,62.33 L605.36,61.54 L606.89,60.76 L608.43,59.99 L609.97,59.22 L611.50,58.46 L613.04,57.70 L614.58,56.94 L616.11,56.19 L617.65,55.45 L619.19,54.70 L620.72,53.97 L622.26,53.24 L623.80,52.51 L625.33,51.80 L626.87,51.08 L628.41,50.38 L629.94,49.68 L631.48,48.98 L633.02,48.30 L634.55,47.62 L636.09,46.95 L637.62,46.29 L639.16,45.63 L640.70,44.98 L642.23,44.35 L643.77,43.72 L645.31,43.10 L646.84,42.49 L648.38,41.89 L649.92,41.30 L651.45,40.72 L652.99,40.16 L654.53,39.61 L656.06,39.08 L657.60,38.58 L659.14,38.09 L660.67,37.63 L662.21,37.19 L663.74,36.79 L665.28,36.41 L666.82,36.06 L668.35,35.74 L669.89,35.46 L671.43,35.21 L672.96,35.00 L674.50,34.83 L674.50,43.12 L672.96,43.28 L671.43,43.47 L669.89,43.70 L668.35,43.97 L666.82,44.28 L665.28,44.61 L663.74,44.98 L662.21,45.38 L660.67,45.81 L659.14,46.26 L657.60,46.73 L656.06,47.23 L654.53,47.75 L652.99,48.29 L651.45,48.84 L649.92,49.42 L648.38,50.00 L646.84,50.60 L645.31,51.20 L643.77,51.82 L642.23,52.44 L640.70,53.08 L639.16,53.72 L637.62,54.38 L636.09,55.04 L634.55,55.71 L633.02,56.38 L631.48,57.07 L629.94,57.76 L628.41,58.46 L626.87,59.17 L625.33,59.88 L623.80,60.61 L622.26,61.33 L620.72,62.06 L619.19,62.80 L617.65,63.55 L616.11,64.30 L614.58,65.05 L613.04,65.81 L611.50,66.57 L609.97,67.34 L608.43,68.11 L606.89,68.89 L605.36,69.68 L603.82,70.47 L602.29,71.27 L600.75,72.08 L599.21,72.90 L597.68,73.72 L596.14,74.56 L594.60,75.41 L593.07,76.27 L591.53,77.14 L589.99,78.02 L588.46,78.92 L586.92,79.83 L585.38,80.76 L583.85,81.69 L582.31,82.65 L580.77,83.62 L579.24,84.61 L577.70,85.61 L576.17,86.64 L574.63,87.68 L573.09,88.73 L571.56,89.79 L570.02,90.87 L568.48,91.96 L566.95,93.05 L565.41,94.16 L563.87,95.27 L562.34,96.39 L560.80,97.51 L559.26,98.63 L557.73,99.76 L556.19,100.88 L554.65,102.00 L553.12,103.13 L551.58,104.24 L550.05,105.36 L548.51,106.46 L546.97,107.56 L545.44,108.65 L543.90,109.73 L542.36,110.80 L540.83,111.85 L539.29,112.90 L537.75,113.94 L536.22,115.00 L534.68,116.06 L533.14,117.14 L531.61,118.26 L530.07,119.40 L528.53,120.58 L527.00,121.81 L525.46,123.10 L523.93,124.44 L522.39,125.84 L520.85,127.28 L519.32,128.74 L517.78,130.23 L516.24,131.72 L514.71,133.21 L513.17,134.67 L511.63,136.10 L510.10,137.49 L508.56,138.84 L507.02,140.15 L505.49,141.42 L503.95,142.65 L502.41,143.85 L500.88,145.02 L499.34,146.16 L497.81,147.27 L496.27,148.35 L494.73,149.42 L493.20,150.48 L491.66,151.53 L490.12,152.58 L488.59,153.63 L487.05,154.69 L485.51,155.77 L483.98,156.86 L482.44,157.97 L480.90,159.11 L479.37,160.29 L477.83,161.49 L476.29,162.72 L474.76,163.98 L473.22,165.26 L471.68,166.55 L470.15,167.85 L468.61,169.17 L467.08,170.48 L465.54,171.79 L464.00,173.10 L462.47,174.40 L460.93,175.69 L459.39,176.95 L457.86,178.20 L456.32,179.42 L454.78,180.62 L453.25,181.79 L451.71,182.94 L450.17,184.08 L448.64,185.21 L447.10,186.34 L445.56,187.48 L444.03,188.62 L442.49,189.78 L440.96,190.96 L439.42,192.16 L437.88,193.39 L436.35,194.66 L434.81,195.96 L433.27,197.32 L431.74,198.72 L430.20,200.19 Z" fill="#6E337C" fill-opacity="0.85"/>
<line x1="430.20" y1="236.10" x2="674.50" y2="236.10" stroke="#a8a8a8" stroke-opacity="0.45" stroke-width="1.1"/>
<line x1="430.20" y1="231.51" x2="674.50" y2="231.51" stroke="#a8a8a8" stroke-opacity="0.45" stroke-width="1.1"/>
<line x1="430.20" y1="227.40" x2="674.50" y2="227.40" stroke="#a8a8a8" stroke-opacity="0.45" stroke-width="1.1"/>
<line x1="430.20" y1="200.37" x2="674.50" y2="200.37" stroke="#a8a8a8" stroke-opacity="0.45" stroke-width="1.1"/>
<line x1="430.20" y1="184.55" x2="674.50" y2="184.55" stroke="#a8a8a8" stroke-opacity="0.45" stroke-width="1.1"/>
<line x1="430.20" y1="173.34" x2="674.50" y2="173.34" stroke="#a8a8a8" stroke-opacity="0.45" stroke-width="1.1"/>
<line x1="430.20" y1="164.63" x2="674.50" y2="164.63" stroke="#a8a8a8" stroke-opacity="0.45" stroke-width="1.1"/>
<line x1="430.20" y1="157.52" x2="674.50" y2="157.52" stroke="#a8a8a8" stroke-opacity="0.45" stroke-width="1.1"/>
<line x1="430.20" y1="151.51" x2="674.50" y2="151.51" stroke="#a8a8a8" stroke-opacity="0.45" stroke-width="1.1"/>
<line x1="430.20" y1="146.30" x2="674.50" y2="146.30" stroke="#a8a8a8" stroke-opacity="0.45" stroke-width="1.1"/>
<line x1="430.20" y1="141.71" x2="674.50" y2="141.71" stroke="#a8a8a8" stroke-opacity="0.45" stroke-width="1.1"/>
<line x1="430.20" y1="137.60" x2="674.50" y2="137.60" stroke="#a8a8a8" stroke-opacity="0.45" stroke-width="1.1"/>
<line x1="430.20" y1="110.57" x2="674.50" y2="110.57" stroke="#a8a8a8" stroke-opacity="0.45" stroke-width="1.1"/>
<line x1="430.20" y1="94.75" x2="674.50" y2="94.75" stroke="#a8a8a8" stroke-opacity="0.45" stroke-width="1.1"/>
<line x1="430.20" y1="83.54" x2="674.50" y2="83.54" stroke="#a8a8a8" stroke-opacity="0.45" stroke-width="1.1"/>
<line x1="430.20" y1="74.83" x2="674.50" y2="74.83" stroke="#a8a8a8" stroke-opacity="0.45" stroke-width="1.1"/>
<line x1="430.20" y1="67.72" x2="674.50" y2="67.72" stroke="#a8a8a8" stroke-opacity="0.45" stroke-width="1.1"/>
<line x1="430.20" y1="61.71" x2="674.50" y2="61.71" stroke="#a8a8a8" stroke-opacity="0.45" stroke-width="1.1"/>
<line x1="430.20" y1="56.50" x2="674.50" y2="56.50" stroke="#a8a8a8" stroke-opacity="0.45" stroke-width="1.1"/>
<line x1="430.20" y1="51.91" x2="674.50" y2="51.91" stroke="#a8a8a8" stroke-opacity="0.45" stroke-width="1.1"/>
<line x1="430.20" y1="47.80" x2="674.50" y2="47.80" stroke="#a8a8a8" stroke-opacity="0.45" stroke-width="1.1"/>
<line x1="491.27" y1="27.10" x2="491.27" y2="241.30" stroke="#a8a8a8" stroke-opacity="0.45" stroke-width="1.1"/>
<line x1="552.35" y1="27.10" x2="552.35" y2="241.30" stroke="#a8a8a8" stroke-opacity="0.45" stroke-width="1.1"/>
<line x1="613.42" y1="27.10" x2="613.42" y2="241.30" stroke="#a8a8a8" stroke-opacity="0.45" stroke-width="1.1"/>
</g>
<rect x="431.50" y="205.50" width="242.00" height="28.50" fill="#fff"/>
<rect x="440.60" y="212.80" width="17" height="12" fill="#C3E0EE"/>
<text x="460.20" y="224.70" font-size="16.3" textLength="34.6" lengthAdjust="spacing" font-family="Liberation Sans, sans-serif" fill="#000">0.06</text>
<rect x="525.20" y="212.80" width="17" height="12" fill="#6E8BC1"/>
<text x="544.80" y="224.70" font-size="16.3" textLength="33.8" lengthAdjust="spacing" font-family="Liberation Sans, sans-serif" fill="#000">0.12</text>
<rect x="609.20" y="212.80" width="17" height="12" fill="#845290"/>
<text x="628.80" y="224.70" font-size="16.3" textLength="32.6" lengthAdjust="spacing" font-family="Liberation Sans, sans-serif" fill="#000">0.24</text>
<path d="M430.20 236.10h3.8M674.50 236.10h-3.8M430.20 231.51h3.8M674.50 231.51h-3.8M430.20 227.40h3.8M674.50 227.40h-3.8M430.20 200.37h3.8M674.50 200.37h-3.8M430.20 184.55h3.8M674.50 184.55h-3.8M430.20 173.34h3.8M674.50 173.34h-3.8M430.20 164.63h3.8M674.50 164.63h-3.8M430.20 157.52h3.8M674.50 157.52h-3.8M430.20 151.51h3.8M674.50 151.51h-3.8M430.20 146.30h3.8M674.50 146.30h-3.8M430.20 141.71h3.8M674.50 141.71h-3.8M430.20 137.60h3.8M674.50 137.60h-3.8M430.20 110.57h3.8M674.50 110.57h-3.8M430.20 94.75h3.8M674.50 94.75h-3.8M430.20 83.54h3.8M674.50 83.54h-3.8M430.20 74.83h3.8M674.50 74.83h-3.8M430.20 67.72h3.8M674.50 67.72h-3.8M430.20 61.71h3.8M674.50 61.71h-3.8M430.20 56.50h3.8M674.50 56.50h-3.8M430.20 51.91h3.8M674.50 51.91h-3.8M430.20 47.80h3.8M674.50 47.80h-3.8M491.27 241.30v-3.8M491.27 27.10v3.8M552.35 241.30v-3.8M552.35 27.10v3.8M613.42 241.30v-3.8M613.42 27.10v3.8" stroke="#000" stroke-width="1.6" fill="none"/>
<rect x="430.20" y="27.10" width="244.30" height="214.20" fill="none" stroke="#000" stroke-width="1.9"/>
<text x="430.20" y="261.10" font-size="20" text-anchor="middle" font-family="Liberation Sans, sans-serif">0</text>
<text x="491.27" y="261.10" font-size="20" text-anchor="middle" font-family="Liberation Sans, sans-serif">7</text>
<text x="552.35" y="261.10" font-size="20" text-anchor="middle" font-family="Liberation Sans, sans-serif">14</text>
<text x="613.42" y="261.10" font-size="20" text-anchor="middle" font-family="Liberation Sans, sans-serif">21</text>
<text x="674.50" y="261.10" font-size="20" text-anchor="middle" font-family="Liberation Sans, sans-serif">28</text>
<text x="393.60" y="234.70" font-size="20" font-family="Liberation Sans, sans-serif">10<tspan font-size="15" dx="0.4" dy="-8.6">0</tspan></text>
<text x="393.60" y="144.90" font-size="20" font-family="Liberation Sans, sans-serif">10<tspan font-size="15" dx="0.4" dy="-8.6">1</tspan></text>
<text x="393.60" y="55.10" font-size="20" font-family="Liberation Sans, sans-serif">10<tspan font-size="15" dx="0.4" dy="-8.6">2</tspan></text>
<text x="552.35" y="285.00" font-size="20.6" text-anchor="middle" font-family="Liberation Sans, sans-serif">Interaction length (cm)</text>
<text transform="translate(383.40 134.20) rotate(-90)" font-size="20.8" text-anchor="middle" font-family="Liberation Sans, sans-serif">Rel. <tspan font-style="italic">N</tspan><tspan font-size="16" font-style="italic" dy="3.2">mol</tspan><tspan dy="-3.2"> r = 3 mm /shot</tspan></text>
<text x="440.80" y="44.50" font-size="15.6" fill="#444" font-family="Liberation Sans, sans-serif">3.5 kV</text>
<text x="403.80" y="27.00" font-size="37.5" font-family="Liberation Sans, sans-serif">b</text>
<clipPath id="c104"><rect x="62.90" y="327.20" width="244.30" height="214.20"/></clipPath>
<g clip-path="url(#c104)">
<path d="M62.90,336.32 L64.44,336.79 L65.97,337.26 L67.51,337.73 L69.05,338.19 L70.58,338.65 L72.12,339.10 L73.66,339.55 L75.19,340.00 L76.73,340.44 L78.26,340.88 L79.80,341.31 L81.34,341.74 L82.87,342.16 L84.41,342.58 L85.95,343.00 L87.48,343.41 L89.02,343.81 L90.56,344.22 L92.09,344.62 L93.63,345.01 L95.17,345.41 L96.70,345.79 L98.24,346.18 L99.78,346.56 L101.31,346.94 L102.85,347.31 L104.38,347.68 L105.92,348.05 L107.46,348.41 L108.99,348.77 L110.53,349.12 L112.07,349.47 L113.60,349.82 L115.14,350.17 L116.68,350.51 L118.21,350.85 L119.75,351.18 L121.29,351.51 L122.82,351.84 L124.36,352.16 L125.90,352.48 L127.43,352.80 L128.97,353.12 L130.51,353.43 L132.04,353.74 L133.58,354.04 L135.11,354.35 L136.65,354.65 L138.19,354.94 L139.72,355.24 L141.26,355.53 L142.80,355.81 L144.33,356.10 L145.87,356.38 L147.41,356.66 L148.94,356.94 L150.48,357.21 L152.02,357.48 L153.55,357.75 L155.09,358.02 L156.63,358.28 L158.16,358.54 L159.70,358.80 L161.23,359.05 L162.77,359.31 L164.31,359.56 L165.84,359.81 L167.38,360.05 L168.92,360.30 L170.45,360.54 L171.99,360.78 L173.53,361.01 L175.06,361.25 L176.60,361.48 L178.14,361.71 L179.67,361.94 L181.21,362.16 L182.75,362.39 L184.28,362.61 L185.82,362.83 L187.35,363.04 L188.89,363.26 L190.43,363.47 L191.96,363.69 L193.50,363.90 L195.04,364.10 L196.57,364.31 L198.11,364.51 L199.65,364.72 L201.18,364.92 L202.72,365.12 L204.26,365.32 L205.79,365.51 L207.33,365.71 L208.87,365.90 L210.40,366.09 L211.94,366.28 L213.47,366.47 L215.01,366.66 L216.55,366.84 L218.08,367.03 L219.62,367.21 L221.16,367.39 L222.69,367.58 L224.23,367.75 L225.77,367.93 L227.30,368.11 L228.84,368.29 L230.38,368.46 L231.91,368.64 L233.45,368.81 L234.99,368.98 L236.52,369.15 L238.06,369.32 L239.59,369.49 L241.13,369.66 L242.67,369.82 L244.20,369.99 L245.74,370.16 L247.28,370.32 L248.81,370.49 L250.35,370.65 L251.89,370.81 L253.42,370.97 L254.96,371.14 L256.50,371.30 L258.03,371.46 L259.57,371.62 L261.11,371.78 L262.64,371.94 L264.18,372.10 L265.72,372.25 L267.25,372.41 L268.79,372.57 L270.32,372.73 L271.86,372.88 L273.40,373.04 L274.93,373.20 L276.47,373.35 L278.01,373.51 L279.54,373.67 L281.08,373.82 L282.62,373.98 L284.15,374.14 L285.69,374.29 L287.23,374.45 L288.76,374.60 L290.30,374.76 L291.84,374.92 L293.37,375.07 L294.91,375.23 L296.44,375.39 L297.98,375.55 L299.52,375.71 L301.05,375.86 L302.59,376.02 L304.13,376.18 L305.66,376.34 L307.20,376.50 L307.20,381.14 L305.66,381.01 L304.13,380.88 L302.59,380.74 L301.05,380.61 L299.52,380.47 L297.98,380.34 L296.44,380.20 L294.91,380.07 L293.37,379.93 L291.84,379.79 L290.30,379.66 L288.76,379.52 L287.23,379.38 L285.69,379.24 L284.15,379.10 L282.62,378.96 L281.08,378.82 L279.54,378.68 L278.01,378.54 L276.47,378.40 L274.93,378.26 L273.40,378.12 L271.86,377.98 L270.32,377.83 L268.79,377.69 L267.25,377.54 L265.72,377.40 L264.18,377.25 L262.64,377.11 L261.11,376.96 L259.57,376.81 L258.03,376.66 L256.50,376.52 L254.96,376.37 L253.42,376.22 L251.89,376.07 L250.35,375.91 L248.81,375.76 L247.28,375.61 L245.74,375.45 L244.20,375.30 L242.67,375.14 L241.13,374.99 L239.59,374.83 L238.06,374.67 L236.52,374.52 L234.99,374.36 L233.45,374.20 L231.91,374.03 L230.38,373.87 L228.84,373.71 L227.30,373.55 L225.77,373.38 L224.23,373.22 L222.69,373.05 L221.16,372.88 L219.62,372.71 L218.08,372.54 L216.55,372.37 L215.01,372.20 L213.47,372.03 L211.94,371.86 L210.40,371.68 L208.87,371.51 L207.33,371.33 L205.79,371.15 L204.26,370.97 L202.72,370.79 L201.18,370.61 L199.65,370.43 L198.11,370.25 L196.57,370.06 L195.04,369.88 L193.50,369.69 L191.96,369.50 L190.43,369.31 L188.89,369.12 L187.35,368.93 L185.82,368.74 L184.28,368.54 L182.75,368.35 L181.21,368.15 L179.67,367.95 L178.14,367.76 L176.60,367.55 L175.06,367.35 L173.53,367.15 L171.99,366.95 L170.45,366.74 L168.92,366.53 L167.38,366.32 L165.84,366.11 L164.31,365.90 L162.77,365.69 L161.23,365.47 L159.70,365.26 L158.16,365.04 L156.63,364.82 L155.09,364.60 L153.55,364.38 L152.02,364.16 L150.48,363.93 L148.94,363.71 L147.41,363.48 L145.87,363.25 L144.33,363.02 L142.80,362.79 L141.26,362.55 L139.72,362.32 L138.19,362.08 L136.65,361.84 L135.11,361.60 L133.58,361.36 L132.04,361.11 L130.51,360.87 L128.97,360.62 L127.43,360.37 L125.90,360.12 L124.36,359.87 L122.82,359.61 L121.29,359.36 L119.75,359.10 L118.21,358.84 L116.68,358.58 L115.14,358.32 L113.60,358.05 L112.07,357.78 L110.53,357.52 L108.99,357.24 L107.46,356.97 L105.92,356.70 L104.38,356.42 L102.85,356.14 L101.31,355.86 L99.78,355.58 L98.24,355.30 L96.70,355.01 L95.17,354.72 L93.63,354.43 L92.09,354.14 L90.56,353.85 L89.02,353.55 L87.48,353.25 L85.95,352.95 L84.41,352.65 L82.87,352.35 L81.34,352.04 L79.80,351.73 L78.26,351.42 L76.73,351.11 L75.19,350.80 L73.66,350.48 L72.12,350.16 L70.58,349.84 L69.05,349.52 L67.51,349.19 L65.97,348.86 L64.44,348.53 L62.90,348.20 Z" fill="#FDCB87" fill-opacity="0.85"/>
<path d="M62.90,388.12 L64.44,388.46 L65.97,388.79 L67.51,389.13 L69.05,389.46 L70.58,389.80 L72.12,390.13 L73.66,390.46 L75.19,390.79 L76.73,391.11 L78.26,391.44 L79.80,391.76 L81.34,392.09 L82.87,392.41 L84.41,392.73 L85.95,393.04 L87.48,393.36 L89.02,393.67 L90.56,393.99 L92.09,394.30 L93.63,394.61 L95.17,394.92 L96.70,395.23 L98.24,395.53 L99.78,395.84 L101.31,396.14 L102.85,396.44 L104.38,396.74 L105.92,397.04 L107.46,397.34 L108.99,397.63 L110.53,397.93 L112.07,398.22 L113.60,398.51 L115.14,398.80 L116.68,399.09 L118.21,399.38 L119.75,399.67 L121.29,399.95 L122.82,400.24 L124.36,400.52 L125.90,400.80 L127.43,401.08 L128.97,401.36 L130.51,401.64 L132.04,401.92 L133.58,402.19 L135.11,402.47 L136.65,402.74 L138.19,403.01 L139.72,403.28 L141.26,403.55 L142.80,403.82 L144.33,404.09 L145.87,404.35 L147.41,404.62 L148.94,404.88 L150.48,405.14 L152.02,405.41 L153.55,405.67 L155.09,405.93 L156.63,406.18 L158.16,406.44 L159.70,406.70 L161.23,406.95 L162.77,407.21 L164.31,407.46 L165.84,407.71 L167.38,407.96 L168.92,408.21 L170.45,408.46 L171.99,408.71 L173.53,408.95 L175.06,409.20 L176.60,409.44 L178.14,409.69 L179.67,409.93 L181.21,410.17 L182.75,410.41 L184.28,410.65 L185.82,410.89 L187.35,411.13 L188.89,411.37 L190.43,411.61 L191.96,411.84 L193.50,412.08 L195.04,412.31 L196.57,412.54 L198.11,412.78 L199.65,413.01 L201.18,413.24 L202.72,413.47 L204.26,413.70 L205.79,413.93 L207.33,414.15 L208.87,414.38 L210.40,414.60 L211.94,414.83 L213.47,415.05 L215.01,415.28 L216.55,415.50 L218.08,415.72 L219.62,415.94 L221.16,416.16 L222.69,416.38 L224.23,416.60 L225.77,416.82 L227.30,417.04 L228.84,417.26 L230.38,417.47 L231.91,417.69 L233.45,417.91 L234.99,418.12 L236.52,418.33 L238.06,418.55 L239.59,418.76 L241.13,418.97 L242.67,419.19 L244.20,419.40 L245.74,419.61 L247.28,419.82 L248.81,420.03 L250.35,420.24 L251.89,420.44 L253.42,420.65 L254.96,420.86 L256.50,421.07 L258.03,421.27 L259.57,421.48 L261.11,421.68 L262.64,421.89 L264.18,422.09 L265.72,422.30 L267.25,422.50 L268.79,422.71 L270.32,422.91 L271.86,423.11 L273.40,423.31 L274.93,423.51 L276.47,423.72 L278.01,423.92 L279.54,424.12 L281.08,424.32 L282.62,424.52 L284.15,424.72 L285.69,424.92 L287.23,425.12 L288.76,425.31 L290.30,425.51 L291.84,425.71 L293.37,425.91 L294.91,426.11 L296.44,426.30 L297.98,426.50 L299.52,426.70 L301.05,426.89 L302.59,427.09 L304.13,427.29 L305.66,427.48 L307.20,427.68 L307.20,431.61 L305.66,431.41 L304.13,431.22 L302.59,431.02 L301.05,430.82 L299.52,430.63 L297.98,430.43 L296.44,430.23 L294.91,430.04 L293.37,429.84 L291.84,429.64 L290.30,429.44 L288.76,429.25 L287.23,429.05 L285.69,428.85 L284.15,428.65 L282.62,428.45 L281.08,428.25 L279.54,428.05 L278.01,427.85 L276.47,427.65 L274.93,427.45 L273.40,427.25 L271.86,427.04 L270.32,426.84 L268.79,426.64 L267.25,426.44 L265.72,426.23 L264.18,426.03 L262.64,425.82 L261.11,425.62 L259.57,425.41 L258.03,425.21 L256.50,425.00 L254.96,424.80 L253.42,424.59 L251.89,424.38 L250.35,424.17 L248.81,423.96 L247.28,423.75 L245.74,423.54 L244.20,423.33 L242.67,423.12 L241.13,422.91 L239.59,422.70 L238.06,422.49 L236.52,422.27 L234.99,422.06 L233.45,421.84 L231.91,421.63 L230.38,421.41 L228.84,421.20 L227.30,420.98 L225.77,420.76 L224.23,420.54 L222.69,420.32 L221.16,420.10 L219.62,419.88 L218.08,419.66 L216.55,419.44 L215.01,419.22 L213.47,419.00 L211.94,418.77 L210.40,418.55 L208.87,418.32 L207.33,418.09 L205.79,417.87 L204.26,417.64 L202.72,417.41 L201.18,417.18 L199.65,416.95 L198.11,416.72 L196.57,416.49 L195.04,416.26 L193.50,416.02 L191.96,415.79 L190.43,415.55 L188.89,415.32 L187.35,415.08 L185.82,414.84 L184.28,414.60 L182.75,414.36 L181.21,414.12 L179.67,413.88 L178.14,413.64 L176.60,413.39 L175.06,413.15 L173.53,412.90 L171.99,412.66 L170.45,412.41 L168.92,412.16 L167.38,411.91 L165.84,411.66 L164.31,411.41 L162.77,411.16 L161.23,410.90 L159.70,410.65 L158.16,410.39 L156.63,410.14 L155.09,409.88 L153.55,409.62 L152.02,409.36 L150.48,409.10 L148.94,408.84 L147.41,408.58 L145.87,408.31 L144.33,408.05 L142.80,407.78 L141.26,407.51 L139.72,407.24 L138.19,406.97 L136.65,406.70 L135.11,406.43 L133.58,406.15 L132.04,405.88 L130.51,405.60 L128.97,405.33 L127.43,405.05 L125.90,404.77 L124.36,404.49 L122.82,404.20 L121.29,403.92 L119.75,403.64 L118.21,403.35 L116.68,403.06 L115.14,402.77 L113.60,402.48 L112.07,402.19 L110.53,401.90 L108.99,401.60 L107.46,401.31 L105.92,401.01 L104.38,400.71 L102.85,400.41 L101.31,400.11 L99.78,399.81 L98.24,399.51 L96.70,399.20 L95.17,398.90 L93.63,398.59 L92.09,398.28 L90.56,397.97 L89.02,397.65 L87.48,397.34 L85.95,397.02 L84.41,396.71 L82.87,396.39 L81.34,396.07 L79.80,395.75 L78.26,395.43 L76.73,395.10 L75.19,394.77 L73.66,394.45 L72.12,394.12 L70.58,393.79 L69.05,393.46 L67.51,393.12 L65.97,392.79 L64.44,392.45 L62.90,392.11 Z" fill="#F48F5F" fill-opacity="0.85"/>
<path d="M62.90,437.16 L64.44,437.68 L65.97,438.20 L67.51,438.71 L69.05,439.22 L70.58,439.73 L72.12,440.23 L73.66,440.73 L75.19,441.23 L76.73,441.72 L78.26,442.22 L79.80,442.71 L81.34,443.19 L82.87,443.68 L84.41,444.16 L85.95,444.64 L87.48,445.11 L89.02,445.58 L90.56,446.05 L92.09,446.52 L93.63,446.98 L95.17,447.45 L96.70,447.90 L98.24,448.36 L99.78,448.81 L101.31,449.26 L102.85,449.71 L104.38,450.15 L105.92,450.60 L107.46,451.03 L108.99,451.47 L110.53,451.90 L112.07,452.33 L113.60,452.76 L115.14,453.19 L116.68,453.61 L118.21,454.03 L119.75,454.45 L121.29,454.86 L122.82,455.27 L124.36,455.68 L125.90,456.09 L127.43,456.49 L128.97,456.89 L130.51,457.29 L132.04,457.69 L133.58,458.08 L135.11,458.47 L136.65,458.86 L138.19,459.25 L139.72,459.63 L141.26,460.01 L142.80,460.39 L144.33,460.76 L145.87,461.13 L147.41,461.50 L148.94,461.87 L150.48,462.23 L152.02,462.59 L153.55,462.95 L155.09,463.31 L156.63,463.66 L158.16,464.02 L159.70,464.37 L161.23,464.71 L162.77,465.06 L164.31,465.40 L165.84,465.74 L167.38,466.07 L168.92,466.41 L170.45,466.74 L171.99,467.07 L173.53,467.39 L175.06,467.72 L176.60,468.04 L178.14,468.36 L179.67,468.67 L181.21,468.99 L182.75,469.30 L184.28,469.61 L185.82,469.91 L187.35,470.22 L188.89,470.52 L190.43,470.82 L191.96,471.11 L193.50,471.41 L195.04,471.70 L196.57,471.99 L198.11,472.28 L199.65,472.56 L201.18,472.84 L202.72,473.12 L204.26,473.40 L205.79,473.68 L207.33,473.95 L208.87,474.22 L210.40,474.49 L211.94,474.76 L213.47,475.02 L215.01,475.28 L216.55,475.54 L218.08,475.79 L219.62,476.05 L221.16,476.30 L222.69,476.55 L224.23,476.80 L225.77,477.04 L227.30,477.29 L228.84,477.53 L230.38,477.76 L231.91,478.00 L233.45,478.23 L234.99,478.46 L236.52,478.69 L238.06,478.92 L239.59,479.14 L241.13,479.37 L242.67,479.59 L244.20,479.81 L245.74,480.02 L247.28,480.23 L248.81,480.45 L250.35,480.65 L251.89,480.86 L253.42,481.07 L254.96,481.27 L256.50,481.47 L258.03,481.67 L259.57,481.86 L261.11,482.06 L262.64,482.25 L264.18,482.44 L265.72,482.63 L267.25,482.81 L268.79,482.99 L270.32,483.17 L271.86,483.35 L273.40,483.53 L274.93,483.71 L276.47,483.88 L278.01,484.05 L279.54,484.22 L281.08,484.38 L282.62,484.55 L284.15,484.71 L285.69,484.87 L287.23,485.03 L288.76,485.18 L290.30,485.34 L291.84,485.49 L293.37,485.64 L294.91,485.79 L296.44,485.93 L297.98,486.08 L299.52,486.22 L301.05,486.36 L302.59,486.50 L304.13,486.63 L305.66,486.77 L307.20,486.90 L307.20,489.51 L305.66,489.38 L304.13,489.24 L302.59,489.11 L301.05,488.97 L299.52,488.83 L297.98,488.69 L296.44,488.54 L294.91,488.40 L293.37,488.25 L291.84,488.10 L290.30,487.95 L288.76,487.80 L287.23,487.64 L285.69,487.48 L284.15,487.32 L282.62,487.16 L281.08,487.00 L279.54,486.83 L278.01,486.66 L276.47,486.49 L274.93,486.32 L273.40,486.15 L271.86,485.97 L270.32,485.79 L268.79,485.61 L267.25,485.43 L265.72,485.24 L264.18,485.06 L262.64,484.87 L261.11,484.68 L259.57,484.48 L258.03,484.29 L256.50,484.09 L254.96,483.89 L253.42,483.69 L251.89,483.48 L250.35,483.28 L248.81,483.07 L247.28,482.86 L245.74,482.65 L244.20,482.43 L242.67,482.21 L241.13,481.99 L239.59,481.77 L238.06,481.55 L236.52,481.32 L234.99,481.09 L233.45,480.86 L231.91,480.63 L230.38,480.39 L228.84,480.16 L227.30,479.92 L225.77,479.68 L224.23,479.43 L222.69,479.18 L221.16,478.94 L219.62,478.68 L218.08,478.43 L216.55,478.17 L215.01,477.92 L213.47,477.66 L211.94,477.39 L210.40,477.13 L208.87,476.86 L207.33,476.59 L205.79,476.32 L204.26,476.04 L202.72,475.77 L201.18,475.49 L199.65,475.21 L198.11,474.92 L196.57,474.64 L195.04,474.35 L193.50,474.06 L191.96,473.76 L190.43,473.47 L188.89,473.17 L187.35,472.87 L185.82,472.56 L184.28,472.26 L182.75,471.95 L181.21,471.64 L179.67,471.33 L178.14,471.01 L176.60,470.69 L175.06,470.37 L173.53,470.05 L171.99,469.72 L170.45,469.40 L168.92,469.07 L167.38,468.73 L165.84,468.40 L164.31,468.06 L162.77,467.72 L161.23,467.38 L159.70,467.03 L158.16,466.68 L156.63,466.33 L155.09,465.98 L153.55,465.62 L152.02,465.27 L150.48,464.90 L148.94,464.54 L147.41,464.18 L145.87,463.81 L144.33,463.44 L142.80,463.06 L141.26,462.69 L139.72,462.31 L138.19,461.93 L136.65,461.54 L135.11,461.15 L133.58,460.76 L132.04,460.37 L130.51,459.98 L128.97,459.58 L127.43,459.18 L125.90,458.78 L124.36,458.37 L122.82,457.97 L121.29,457.55 L119.75,457.14 L118.21,456.73 L116.68,456.31 L115.14,455.89 L113.60,455.46 L112.07,455.03 L110.53,454.60 L108.99,454.17 L107.46,453.74 L105.92,453.30 L104.38,452.86 L102.85,452.42 L101.31,451.97 L99.78,451.52 L98.24,451.07 L96.70,450.62 L95.17,450.16 L93.63,449.70 L92.09,449.24 L90.56,448.77 L89.02,448.30 L87.48,447.83 L85.95,447.36 L84.41,446.88 L82.87,446.40 L81.34,445.92 L79.80,445.43 L78.26,444.95 L76.73,444.46 L75.19,443.96 L73.66,443.47 L72.12,442.97 L70.58,442.46 L69.05,441.96 L67.51,441.45 L65.97,440.94 L64.44,440.43 L62.90,439.91 Z" fill="#C53844" fill-opacity="0.85"/>
<line x1="62.90" y1="512.57" x2="307.20" y2="512.57" stroke="#a8a8a8" stroke-opacity="0.45" stroke-width="1.1"/>
<line x1="62.90" y1="491.98" x2="307.20" y2="491.98" stroke="#a8a8a8" stroke-opacity="0.45" stroke-width="1.1"/>
<line x1="62.90" y1="476.01" x2="307.20" y2="476.01" stroke="#a8a8a8" stroke-opacity="0.45" stroke-width="1.1"/>
<line x1="62.90" y1="462.96" x2="307.20" y2="462.96" stroke="#a8a8a8" stroke-opacity="0.45" stroke-width="1.1"/>
<line x1="62.90" y1="451.93" x2="307.20" y2="451.93" stroke="#a8a8a8" stroke-opacity="0.45" stroke-width="1.1"/>
<line x1="62.90" y1="442.37" x2="307.20" y2="442.37" stroke="#a8a8a8" stroke-opacity="0.45" stroke-width="1.1"/>
<line x1="62.90" y1="433.94" x2="307.20" y2="433.94" stroke="#a8a8a8" stroke-opacity="0.45" stroke-width="1.1"/>
<line x1="62.90" y1="426.40" x2="307.20" y2="426.40" stroke="#a8a8a8" stroke-opacity="0.45" stroke-width="1.1"/>
<line x1="62.90" y1="376.79" x2="307.20" y2="376.79" stroke="#a8a8a8" stroke-opacity="0.45" stroke-width="1.1"/>
<line x1="62.90" y1="347.77" x2="307.20" y2="347.77" stroke="#a8a8a8" stroke-opacity="0.45" stroke-width="1.1"/>
<line x1="185.05" y1="327.20" x2="185.05" y2="541.40" stroke="#a8a8a8" stroke-opacity="0.45" stroke-width="1.1"/>
</g>
<rect x="64.00" y="505.50" width="242.00" height="28.50" fill="#fff"/>
<rect x="73.30" y="512.80" width="17" height="12" fill="#FDD399"/>
<text x="92.90" y="524.70" font-size="16.3" textLength="34.6" lengthAdjust="spacing" font-family="Liberation Sans, sans-serif" fill="#000">0.06</text>
<rect x="157.90" y="512.80" width="17" height="12" fill="#F6A077"/>
<text x="177.50" y="524.70" font-size="16.3" textLength="33.8" lengthAdjust="spacing" font-family="Liberation Sans, sans-serif" fill="#000">0.12</text>
<rect x="241.90" y="512.80" width="17" height="12" fill="#CE5660"/>
<text x="261.50" y="524.70" font-size="16.3" textLength="32.6" lengthAdjust="spacing" font-family="Liberation Sans, sans-serif" fill="#000">0.24</text>
<path d="M62.90 512.57h3.8M307.20 512.57h-3.8M62.90 491.98h3.8M307.20 491.98h-3.8M62.90 476.01h3.8M307.20 476.01h-3.8M62.90 462.96h3.8M307.20 462.96h-3.8M62.90 451.93h3.8M307.20 451.93h-3.8M62.90 442.37h3.8M307.20 442.37h-3.8M62.90 433.94h3.8M307.20 433.94h-3.8M62.90 426.40h3.8M307.20 426.40h-3.8M62.90 376.79h3.8M307.20 376.79h-3.8M62.90 347.77h3.8M307.20 347.77h-3.8M185.05 541.40v-3.8M185.05 327.20v3.8" stroke="#000" stroke-width="1.6" fill="none"/>
<rect x="62.90" y="327.20" width="244.30" height="214.20" fill="none" stroke="#000" stroke-width="1.9"/>
<text x="62.90" y="561.20" font-size="20" text-anchor="middle" font-family="Liberation Sans, sans-serif">14</text>
<text x="185.05" y="561.20" font-size="20" text-anchor="middle" font-family="Liberation Sans, sans-serif">21</text>
<text x="307.20" y="561.20" font-size="20" text-anchor="middle" font-family="Liberation Sans, sans-serif">28</text>
<text x="26.30" y="433.70" font-size="20" font-family="Liberation Sans, sans-serif">10<tspan font-size="15" dx="0.4" dy="-8.6">1</tspan></text>
<text x="185.05" y="585.10" font-size="20.6" text-anchor="middle" font-family="Liberation Sans, sans-serif">Interaction length (cm)</text>
<text transform="translate(16.10 434.30) rotate(-90)" font-size="20.5" text-anchor="middle" font-family="Liberation Sans, sans-serif"><tspan font-style="italic">σ</tspan> (mm)</text>
<text x="301.60" y="344.80" font-size="15.6" text-anchor="end" fill="#444" font-family="Liberation Sans, sans-serif">2.0 kV</text>
<text x="37.60" y="327.00" font-size="37.5" font-family="Liberation Sans, sans-serif" stroke="#000" stroke-width="0.7">c</text>
<clipPath id="c138"><rect x="430.20" y="327.20" width="244.30" height="214.20"/></clipPath>
<g clip-path="url(#c138)">
<path d="M430.20,338.35 L431.74,338.48 L433.27,338.61 L434.81,338.74 L436.35,338.87 L437.88,339.01 L439.42,339.15 L440.96,339.29 L442.49,339.43 L444.03,339.57 L445.56,339.72 L447.10,339.86 L448.64,340.01 L450.17,340.16 L451.71,340.31 L453.25,340.47 L454.78,340.62 L456.32,340.78 L457.86,340.94 L459.39,341.10 L460.93,341.26 L462.47,341.43 L464.00,341.59 L465.54,341.76 L467.08,341.93 L468.61,342.10 L470.15,342.27 L471.68,342.44 L473.22,342.62 L474.76,342.79 L476.29,342.97 L477.83,343.14 L479.37,343.32 L480.90,343.50 L482.44,343.68 L483.98,343.86 L485.51,344.05 L487.05,344.23 L488.59,344.41 L490.12,344.60 L491.66,344.79 L493.20,344.97 L494.73,345.16 L496.27,345.35 L497.81,345.54 L499.34,345.73 L500.88,345.92 L502.41,346.11 L503.95,346.31 L505.49,346.50 L507.02,346.69 L508.56,346.89 L510.10,347.08 L511.63,347.28 L513.17,347.47 L514.71,347.67 L516.24,347.86 L517.78,348.06 L519.32,348.26 L520.85,348.45 L522.39,348.65 L523.93,348.85 L525.46,349.05 L527.00,349.24 L528.53,349.44 L530.07,349.64 L531.61,349.84 L533.14,350.04 L534.68,350.23 L536.22,350.43 L537.75,350.63 L539.29,350.83 L540.83,351.02 L542.36,351.22 L543.90,351.42 L545.44,351.61 L546.97,351.81 L548.51,352.01 L550.05,352.20 L551.58,352.40 L553.12,352.59 L554.65,352.79 L556.19,352.98 L557.73,353.17 L559.26,353.37 L560.80,353.56 L562.34,353.75 L563.87,353.94 L565.41,354.13 L566.95,354.32 L568.48,354.51 L570.02,354.70 L571.56,354.89 L573.09,355.07 L574.63,355.26 L576.17,355.44 L577.70,355.62 L579.24,355.81 L580.77,355.99 L582.31,356.17 L583.85,356.35 L585.38,356.53 L586.92,356.70 L588.46,356.88 L589.99,357.05 L591.53,357.23 L593.07,357.40 L594.60,357.57 L596.14,357.74 L597.68,357.91 L599.21,358.07 L600.75,358.24 L602.29,358.40 L603.82,358.56 L605.36,358.72 L606.89,358.88 L608.43,359.04 L609.97,359.19 L611.50,359.35 L613.04,359.50 L614.58,359.65 L616.11,359.80 L617.65,359.95 L619.19,360.09 L620.72,360.23 L622.26,360.37 L623.80,360.51 L625.33,360.65 L626.87,360.78 L628.41,360.92 L629.94,361.05 L631.48,361.18 L633.02,361.30 L634.55,361.43 L636.09,361.55 L637.62,361.67 L639.16,361.79 L640.70,361.90 L642.23,362.02 L643.77,362.13 L645.31,362.23 L646.84,362.34 L648.38,362.44 L649.92,362.54 L651.45,362.64 L652.99,362.74 L654.53,362.83 L656.06,362.92 L657.60,363.01 L659.14,363.09 L660.67,363.17 L662.21,363.25 L663.74,363.33 L665.28,363.40 L666.82,363.47 L668.35,363.54 L669.89,363.61 L671.43,363.67 L672.96,363.73 L674.50,363.78 L674.50,370.46 L672.96,370.40 L671.43,370.34 L669.89,370.28 L668.35,370.22 L666.82,370.15 L665.28,370.09 L663.74,370.02 L662.21,369.95 L660.67,369.88 L659.14,369.81 L657.60,369.73 L656.06,369.66 L654.53,369.58 L652.99,369.51 L651.45,369.43 L649.92,369.35 L648.38,369.27 L646.84,369.19 L645.31,369.10 L643.77,369.02 L642.23,368.94 L640.70,368.85 L639.16,368.76 L637.62,368.67 L636.09,368.58 L634.55,368.49 L633.02,368.40 L631.48,368.31 L629.94,368.22 L628.41,368.12 L626.87,368.03 L625.33,367.93 L623.80,367.84 L622.26,367.74 L620.72,367.64 L619.19,367.54 L617.65,367.44 L616.11,367.34 L614.58,367.24 L613.04,367.14 L611.50,367.04 L609.97,366.94 L608.43,366.83 L606.89,366.73 L605.36,366.62 L603.82,366.52 L602.29,366.41 L600.75,366.31 L599.21,366.20 L597.68,366.09 L596.14,365.98 L594.60,365.88 L593.07,365.77 L591.53,365.66 L589.99,365.55 L588.46,365.44 L586.92,365.33 L585.38,365.22 L583.85,365.11 L582.31,365.00 L580.77,364.88 L579.24,364.77 L577.70,364.66 L576.17,364.55 L574.63,364.44 L573.09,364.33 L571.56,364.21 L570.02,364.10 L568.48,363.99 L566.95,363.88 L565.41,363.76 L563.87,363.65 L562.34,363.54 L560.80,363.43 L559.26,363.32 L557.73,363.20 L556.19,363.09 L554.65,362.98 L553.12,362.87 L551.58,362.76 L550.05,362.64 L548.51,362.53 L546.97,362.42 L545.44,362.31 L543.90,362.20 L542.36,362.09 L540.83,361.98 L539.29,361.87 L537.75,361.76 L536.22,361.65 L534.68,361.54 L533.14,361.44 L531.61,361.33 L530.07,361.22 L528.53,361.12 L527.00,361.01 L525.46,360.90 L523.93,360.80 L522.39,360.69 L520.85,360.59 L519.32,360.49 L517.78,360.38 L516.24,360.28 L514.71,360.18 L513.17,360.08 L511.63,359.98 L510.10,359.88 L508.56,359.78 L507.02,359.69 L505.49,359.59 L503.95,359.49 L502.41,359.40 L500.88,359.30 L499.34,359.21 L497.81,359.12 L496.27,359.03 L494.73,358.94 L493.20,358.85 L491.66,358.76 L490.12,358.67 L488.59,358.58 L487.05,358.50 L485.51,358.41 L483.98,358.33 L482.44,358.25 L480.90,358.17 L479.37,358.09 L477.83,358.01 L476.29,357.93 L474.76,357.86 L473.22,357.78 L471.68,357.71 L470.15,357.64 L468.61,357.56 L467.08,357.49 L465.54,357.43 L464.00,357.36 L462.47,357.29 L460.93,357.23 L459.39,357.17 L457.86,357.11 L456.32,357.05 L454.78,356.99 L453.25,356.93 L451.71,356.88 L450.17,356.82 L448.64,356.77 L447.10,356.72 L445.56,356.67 L444.03,356.63 L442.49,356.58 L440.96,356.54 L439.42,356.49 L437.88,356.45 L436.35,356.42 L434.81,356.38 L433.27,356.34 L431.74,356.31 L430.20,356.28 Z" fill="#B8DBEB" fill-opacity="0.85"/>
<path d="M430.20,376.71 L431.74,376.92 L433.27,377.13 L434.81,377.33 L436.35,377.54 L437.88,377.76 L439.42,377.97 L440.96,378.18 L442.49,378.40 L444.03,378.61 L445.56,378.83 L447.10,379.05 L448.64,379.27 L450.17,379.49 L451.71,379.71 L453.25,379.94 L454.78,380.16 L456.32,380.39 L457.86,380.62 L459.39,380.84 L460.93,381.07 L462.47,381.30 L464.00,381.53 L465.54,381.76 L467.08,381.99 L468.61,382.23 L470.15,382.46 L471.68,382.70 L473.22,382.93 L474.76,383.17 L476.29,383.40 L477.83,383.64 L479.37,383.88 L480.90,384.12 L482.44,384.36 L483.98,384.60 L485.51,384.84 L487.05,385.08 L488.59,385.32 L490.12,385.56 L491.66,385.81 L493.20,386.05 L494.73,386.29 L496.27,386.54 L497.81,386.78 L499.34,387.02 L500.88,387.27 L502.41,387.51 L503.95,387.76 L505.49,388.00 L507.02,388.25 L508.56,388.50 L510.10,388.74 L511.63,388.99 L513.17,389.24 L514.71,389.48 L516.24,389.73 L517.78,389.98 L519.32,390.22 L520.85,390.47 L522.39,390.72 L523.93,390.96 L525.46,391.21 L527.00,391.46 L528.53,391.70 L530.07,391.95 L531.61,392.19 L533.14,392.44 L534.68,392.68 L536.22,392.93 L537.75,393.18 L539.29,393.42 L540.83,393.66 L542.36,393.91 L543.90,394.15 L545.44,394.40 L546.97,394.64 L548.51,394.88 L550.05,395.12 L551.58,395.36 L553.12,395.60 L554.65,395.85 L556.19,396.08 L557.73,396.32 L559.26,396.56 L560.80,396.80 L562.34,397.04 L563.87,397.27 L565.41,397.51 L566.95,397.75 L568.48,397.98 L570.02,398.21 L571.56,398.45 L573.09,398.68 L574.63,398.91 L576.17,399.14 L577.70,399.37 L579.24,399.60 L580.77,399.82 L582.31,400.05 L583.85,400.27 L585.38,400.50 L586.92,400.72 L588.46,400.94 L589.99,401.17 L591.53,401.39 L593.07,401.60 L594.60,401.82 L596.14,402.04 L597.68,402.25 L599.21,402.47 L600.75,402.68 L602.29,402.89 L603.82,403.10 L605.36,403.31 L606.89,403.51 L608.43,403.72 L609.97,403.92 L611.50,404.13 L613.04,404.33 L614.58,404.53 L616.11,404.73 L617.65,404.92 L619.19,405.12 L620.72,405.31 L622.26,405.50 L623.80,405.69 L625.33,405.88 L626.87,406.07 L628.41,406.25 L629.94,406.44 L631.48,406.62 L633.02,406.80 L634.55,406.98 L636.09,407.15 L637.62,407.33 L639.16,407.50 L640.70,407.67 L642.23,407.84 L643.77,408.00 L645.31,408.17 L646.84,408.33 L648.38,408.49 L649.92,408.65 L651.45,408.80 L652.99,408.96 L654.53,409.11 L656.06,409.26 L657.60,409.41 L659.14,409.55 L660.67,409.69 L662.21,409.83 L663.74,409.97 L665.28,410.11 L666.82,410.24 L668.35,410.37 L669.89,410.50 L671.43,410.63 L672.96,410.75 L674.50,410.87 L674.50,413.93 L672.96,413.81 L671.43,413.69 L669.89,413.57 L668.35,413.44 L666.82,413.31 L665.28,413.18 L663.74,413.05 L662.21,412.91 L660.67,412.77 L659.14,412.63 L657.60,412.49 L656.06,412.35 L654.53,412.20 L652.99,412.05 L651.45,411.90 L649.92,411.75 L648.38,411.59 L646.84,411.43 L645.31,411.27 L643.77,411.11 L642.23,410.95 L640.70,410.78 L639.16,410.62 L637.62,410.45 L636.09,410.28 L634.55,410.10 L633.02,409.93 L631.48,409.75 L629.94,409.57 L628.41,409.39 L626.87,409.21 L625.33,409.03 L623.80,408.84 L622.26,408.66 L620.72,408.47 L619.19,408.28 L617.65,408.09 L616.11,407.89 L614.58,407.70 L613.04,407.50 L611.50,407.30 L609.97,407.11 L608.43,406.90 L606.89,406.70 L605.36,406.50 L603.82,406.30 L602.29,406.09 L600.75,405.88 L599.21,405.68 L597.68,405.47 L596.14,405.26 L594.60,405.04 L593.07,404.83 L591.53,404.62 L589.99,404.40 L588.46,404.19 L586.92,403.97 L585.38,403.75 L583.85,403.54 L582.31,403.32 L580.77,403.10 L579.24,402.87 L577.70,402.65 L576.17,402.43 L574.63,402.21 L573.09,401.98 L571.56,401.76 L570.02,401.53 L568.48,401.30 L566.95,401.08 L565.41,400.85 L563.87,400.62 L562.34,400.39 L560.80,400.16 L559.26,399.93 L557.73,399.70 L556.19,399.47 L554.65,399.24 L553.12,399.01 L551.58,398.78 L550.05,398.54 L548.51,398.31 L546.97,398.08 L545.44,397.85 L543.90,397.61 L542.36,397.38 L540.83,397.15 L539.29,396.91 L537.75,396.68 L536.22,396.44 L534.68,396.21 L533.14,395.98 L531.61,395.74 L530.07,395.51 L528.53,395.27 L527.00,395.04 L525.46,394.81 L523.93,394.57 L522.39,394.34 L520.85,394.11 L519.32,393.87 L517.78,393.64 L516.24,393.41 L514.71,393.18 L513.17,392.94 L511.63,392.71 L510.10,392.48 L508.56,392.25 L507.02,392.02 L505.49,391.79 L503.95,391.56 L502.41,391.33 L500.88,391.11 L499.34,390.88 L497.81,390.65 L496.27,390.43 L494.73,390.20 L493.20,389.97 L491.66,389.75 L490.12,389.53 L488.59,389.30 L487.05,389.08 L485.51,388.86 L483.98,388.64 L482.44,388.42 L480.90,388.20 L479.37,387.99 L477.83,387.77 L476.29,387.56 L474.76,387.34 L473.22,387.13 L471.68,386.92 L470.15,386.70 L468.61,386.49 L467.08,386.29 L465.54,386.08 L464.00,385.87 L462.47,385.67 L460.93,385.46 L459.39,385.26 L457.86,385.06 L456.32,384.86 L454.78,384.66 L453.25,384.46 L451.71,384.27 L450.17,384.07 L448.64,383.88 L447.10,383.69 L445.56,383.50 L444.03,383.31 L442.49,383.13 L440.96,382.94 L439.42,382.76 L437.88,382.58 L436.35,382.40 L434.81,382.22 L433.27,382.04 L431.74,381.87 L430.20,381.70 Z" fill="#5477B6" fill-opacity="0.85"/>
<path d="M430.20,423.15 L431.74,423.65 L433.27,424.15 L434.81,424.64 L436.35,425.13 L437.88,425.62 L439.42,426.11 L440.96,426.59 L442.49,427.07 L444.03,427.55 L445.56,428.02 L447.10,428.50 L448.64,428.97 L450.17,429.44 L451.71,429.90 L453.25,430.36 L454.78,430.82 L456.32,431.28 L457.86,431.74 L459.39,432.19 L460.93,432.64 L462.47,433.09 L464.00,433.53 L465.54,433.97 L467.08,434.41 L468.61,434.85 L470.15,435.29 L471.68,435.72 L473.22,436.15 L474.76,436.58 L476.29,437.01 L477.83,437.43 L479.37,437.85 L480.90,438.27 L482.44,438.69 L483.98,439.10 L485.51,439.51 L487.05,439.92 L488.59,440.33 L490.12,440.73 L491.66,441.14 L493.20,441.54 L494.73,441.94 L496.27,442.33 L497.81,442.73 L499.34,443.12 L500.88,443.51 L502.41,443.90 L503.95,444.28 L505.49,444.67 L507.02,445.05 L508.56,445.43 L510.10,445.80 L511.63,446.18 L513.17,446.55 L514.71,446.92 L516.24,447.29 L517.78,447.66 L519.32,448.02 L520.85,448.39 L522.39,448.75 L523.93,449.11 L525.46,449.46 L527.00,449.82 L528.53,450.17 L530.07,450.52 L531.61,450.87 L533.14,451.22 L534.68,451.57 L536.22,451.91 L537.75,452.25 L539.29,452.59 L540.83,452.93 L542.36,453.27 L543.90,453.60 L545.44,453.93 L546.97,454.27 L548.51,454.60 L550.05,454.92 L551.58,455.25 L553.12,455.57 L554.65,455.90 L556.19,456.22 L557.73,456.54 L559.26,456.85 L560.80,457.17 L562.34,457.48 L563.87,457.80 L565.41,458.11 L566.95,458.42 L568.48,458.73 L570.02,459.03 L571.56,459.34 L573.09,459.64 L574.63,459.94 L576.17,460.24 L577.70,460.54 L579.24,460.84 L580.77,461.13 L582.31,461.43 L583.85,461.72 L585.38,462.01 L586.92,462.30 L588.46,462.59 L589.99,462.88 L591.53,463.16 L593.07,463.45 L594.60,463.73 L596.14,464.01 L597.68,464.29 L599.21,464.57 L600.75,464.85 L602.29,465.12 L603.82,465.40 L605.36,465.67 L606.89,465.95 L608.43,466.22 L609.97,466.49 L611.50,466.76 L613.04,467.02 L614.58,467.29 L616.11,467.56 L617.65,467.82 L619.19,468.08 L620.72,468.34 L622.26,468.60 L623.80,468.86 L625.33,469.12 L626.87,469.38 L628.41,469.64 L629.94,469.89 L631.48,470.15 L633.02,470.40 L634.55,470.65 L636.09,470.90 L637.62,471.15 L639.16,471.40 L640.70,471.65 L642.23,471.90 L643.77,472.14 L645.31,472.39 L646.84,472.63 L648.38,472.88 L649.92,473.12 L651.45,473.36 L652.99,473.60 L654.53,473.84 L656.06,474.08 L657.60,474.32 L659.14,474.55 L660.67,474.79 L662.21,475.03 L663.74,475.26 L665.28,475.50 L666.82,475.73 L668.35,475.96 L669.89,476.19 L671.43,476.43 L672.96,476.66 L674.50,476.89 L674.50,479.31 L672.96,479.08 L671.43,478.85 L669.89,478.62 L668.35,478.39 L666.82,478.16 L665.28,477.92 L663.74,477.69 L662.21,477.46 L660.67,477.22 L659.14,476.98 L657.60,476.75 L656.06,476.51 L654.53,476.27 L652.99,476.03 L651.45,475.79 L649.92,475.55 L648.38,475.30 L646.84,475.06 L645.31,474.82 L643.77,474.57 L642.23,474.33 L640.70,474.08 L639.16,473.83 L637.62,473.58 L636.09,473.33 L634.55,473.08 L633.02,472.83 L631.48,472.58 L629.94,472.32 L628.41,472.07 L626.87,471.81 L625.33,471.56 L623.80,471.30 L622.26,471.04 L620.72,470.78 L619.19,470.52 L617.65,470.25 L616.11,469.99 L614.58,469.73 L613.04,469.46 L611.50,469.19 L609.97,468.92 L608.43,468.65 L606.89,468.38 L605.36,468.11 L603.82,467.84 L602.29,467.56 L600.75,467.29 L599.21,467.01 L597.68,466.73 L596.14,466.45 L594.60,466.17 L593.07,465.89 L591.53,465.60 L589.99,465.32 L588.46,465.03 L586.92,464.74 L585.38,464.45 L583.85,464.16 L582.31,463.87 L580.77,463.58 L579.24,463.28 L577.70,462.98 L576.17,462.69 L574.63,462.39 L573.09,462.09 L571.56,461.78 L570.02,461.48 L568.48,461.17 L566.95,460.87 L565.41,460.56 L563.87,460.25 L562.34,459.93 L560.80,459.62 L559.26,459.30 L557.73,458.99 L556.19,458.67 L554.65,458.35 L553.12,458.03 L551.58,457.70 L550.05,457.38 L548.51,457.05 L546.97,456.72 L545.44,456.39 L543.90,456.06 L542.36,455.72 L540.83,455.39 L539.29,455.05 L537.75,454.71 L536.22,454.37 L534.68,454.03 L533.14,453.68 L531.61,453.33 L530.07,452.98 L528.53,452.63 L527.00,452.28 L525.46,451.93 L523.93,451.57 L522.39,451.21 L520.85,450.85 L519.32,450.49 L517.78,450.13 L516.24,449.76 L514.71,449.39 L513.17,449.02 L511.63,448.65 L510.10,448.27 L508.56,447.90 L507.02,447.52 L505.49,447.14 L503.95,446.76 L502.41,446.37 L500.88,445.98 L499.34,445.60 L497.81,445.20 L496.27,444.81 L494.73,444.42 L493.20,444.02 L491.66,443.62 L490.12,443.22 L488.59,442.81 L487.05,442.40 L485.51,442.00 L483.98,441.58 L482.44,441.17 L480.90,440.76 L479.37,440.34 L477.83,439.92 L476.29,439.50 L474.76,439.07 L473.22,438.64 L471.68,438.21 L470.15,437.78 L468.61,437.35 L467.08,436.91 L465.54,436.47 L464.00,436.03 L462.47,435.59 L460.93,435.14 L459.39,434.69 L457.86,434.24 L456.32,433.78 L454.78,433.33 L453.25,432.87 L451.71,432.41 L450.17,431.94 L448.64,431.48 L447.10,431.01 L445.56,430.54 L444.03,430.06 L442.49,429.58 L440.96,429.10 L439.42,428.62 L437.88,428.14 L436.35,427.65 L434.81,427.16 L433.27,426.67 L431.74,426.17 L430.20,425.67 Z" fill="#6E337C" fill-opacity="0.85"/>
<line x1="430.20" y1="512.57" x2="674.50" y2="512.57" stroke="#a8a8a8" stroke-opacity="0.45" stroke-width="1.1"/>
<line x1="430.20" y1="491.98" x2="674.50" y2="491.98" stroke="#a8a8a8" stroke-opacity="0.45" stroke-width="1.1"/>
<line x1="430.20" y1="476.01" x2="674.50" y2="476.01" stroke="#a8a8a8" stroke-opacity="0.45" stroke-width="1.1"/>
<line x1="430.20" y1="462.96" x2="674.50" y2="462.96" stroke="#a8a8a8" stroke-opacity="0.45" stroke-width="1.1"/>
<line x1="430.20" y1="451.93" x2="674.50" y2="451.93" stroke="#a8a8a8" stroke-opacity="0.45" stroke-width="1.1"/>
<line x1="430.20" y1="442.37" x2="674.50" y2="442.37" stroke="#a8a8a8" stroke-opacity="0.45" stroke-width="1.1"/>
<line x1="430.20" y1="433.94" x2="674.50" y2="433.94" stroke="#a8a8a8" stroke-opacity="0.45" stroke-width="1.1"/>
<line x1="430.20" y1="426.40" x2="674.50" y2="426.40" stroke="#a8a8a8" stroke-opacity="0.45" stroke-width="1.1"/>
<line x1="430.20" y1="376.79" x2="674.50" y2="376.79" stroke="#a8a8a8" stroke-opacity="0.45" stroke-width="1.1"/>
<line x1="430.20" y1="347.77" x2="674.50" y2="347.77" stroke="#a8a8a8" stroke-opacity="0.45" stroke-width="1.1"/>
<line x1="552.35" y1="327.20" x2="552.35" y2="541.40" stroke="#a8a8a8" stroke-opacity="0.45" stroke-width="1.1"/>
</g>
<rect x="431.50" y="505.50" width="242.00" height="28.50" fill="#fff"/>
<rect x="440.60" y="512.80" width="17" height="12" fill="#C3E0EE"/>
<text x="460.20" y="524.70" font-size="16.3" textLength="34.6" lengthAdjust="spacing" font-family="Liberation Sans, sans-serif" fill="#000">0.06</text>
<rect x="525.20" y="512.80" width="17" height="12" fill="#6E8BC1"/>
<text x="544.80" y="524.70" font-size="16.3" textLength="33.8" lengthAdjust="spacing" font-family="Liberation Sans, sans-serif" fill="#000">0.12</text>
<rect x="609.20" y="512.80" width="17" height="12" fill="#845290"/>
<text x="628.80" y="524.70" font-size="16.3" textLength="32.6" lengthAdjust="spacing" font-family="Liberation Sans, sans-serif" fill="#000">0.24</text>
<path d="M430.20 512.57h3.8M674.50 512.57h-3.8M430.20 491.98h3.8M674.50 491.98h-3.8M430.20 476.01h3.8M674.50 476.01h-3.8M430.20 462.96h3.8M674.50 462.96h-3.8M430.20 451.93h3.8M674.50 451.93h-3.8M430.20 442.37h3.8M674.50 442.37h-3.8M430.20 433.94h3.8M674.50 433.94h-3.8M430.20 426.40h3.8M674.50 426.40h-3.8M430.20 376.79h3.8M674.50 376.79h-3.8M430.20 347.77h3.8M674.50 347.77h-3.8M552.35 541.40v-3.8M552.35 327.20v3.8" stroke="#000" stroke-width="1.6" fill="none"/>
<rect x="430.20" y="327.20" width="244.30" height="214.20" fill="none" stroke="#000" stroke-width="1.9"/>
<text x="430.20" y="561.20" font-size="20" text-anchor="middle" font-family="Liberation Sans, sans-serif">14</text>
<text x="552.35" y="561.20" font-size="20" text-anchor="middle" font-family="Liberation Sans, sans-serif">21</text>
<text x="674.50" y="561.20" font-size="20" text-anchor="middle" font-family="Liberation Sans, sans-serif">28</text>
<text x="393.60" y="433.70" font-size="20" font-family="Liberation Sans, sans-serif">10<tspan font-size="15" dx="0.4" dy="-8.6">1</tspan></text>
<text x="552.35" y="585.10" font-size="20.6" text-anchor="middle" font-family="Liberation Sans, sans-serif">Interaction length (cm)</text>
<text transform="translate(383.40 434.30) rotate(-90)" font-size="20.5" text-anchor="middle" font-family="Liberation Sans, sans-serif"><tspan font-style="italic">σ</tspan> (mm)</text>
<text x="668.90" y="344.80" font-size="15.6" text-anchor="end" fill="#444" font-family="Liberation Sans, sans-serif">3.5 kV</text>
<text x="402.60" y="326.50" font-size="37.5" font-family="Liberation Sans, sans-serif" stroke="#000" stroke-width="0.3">d</text>
</svg>
</body></html>
